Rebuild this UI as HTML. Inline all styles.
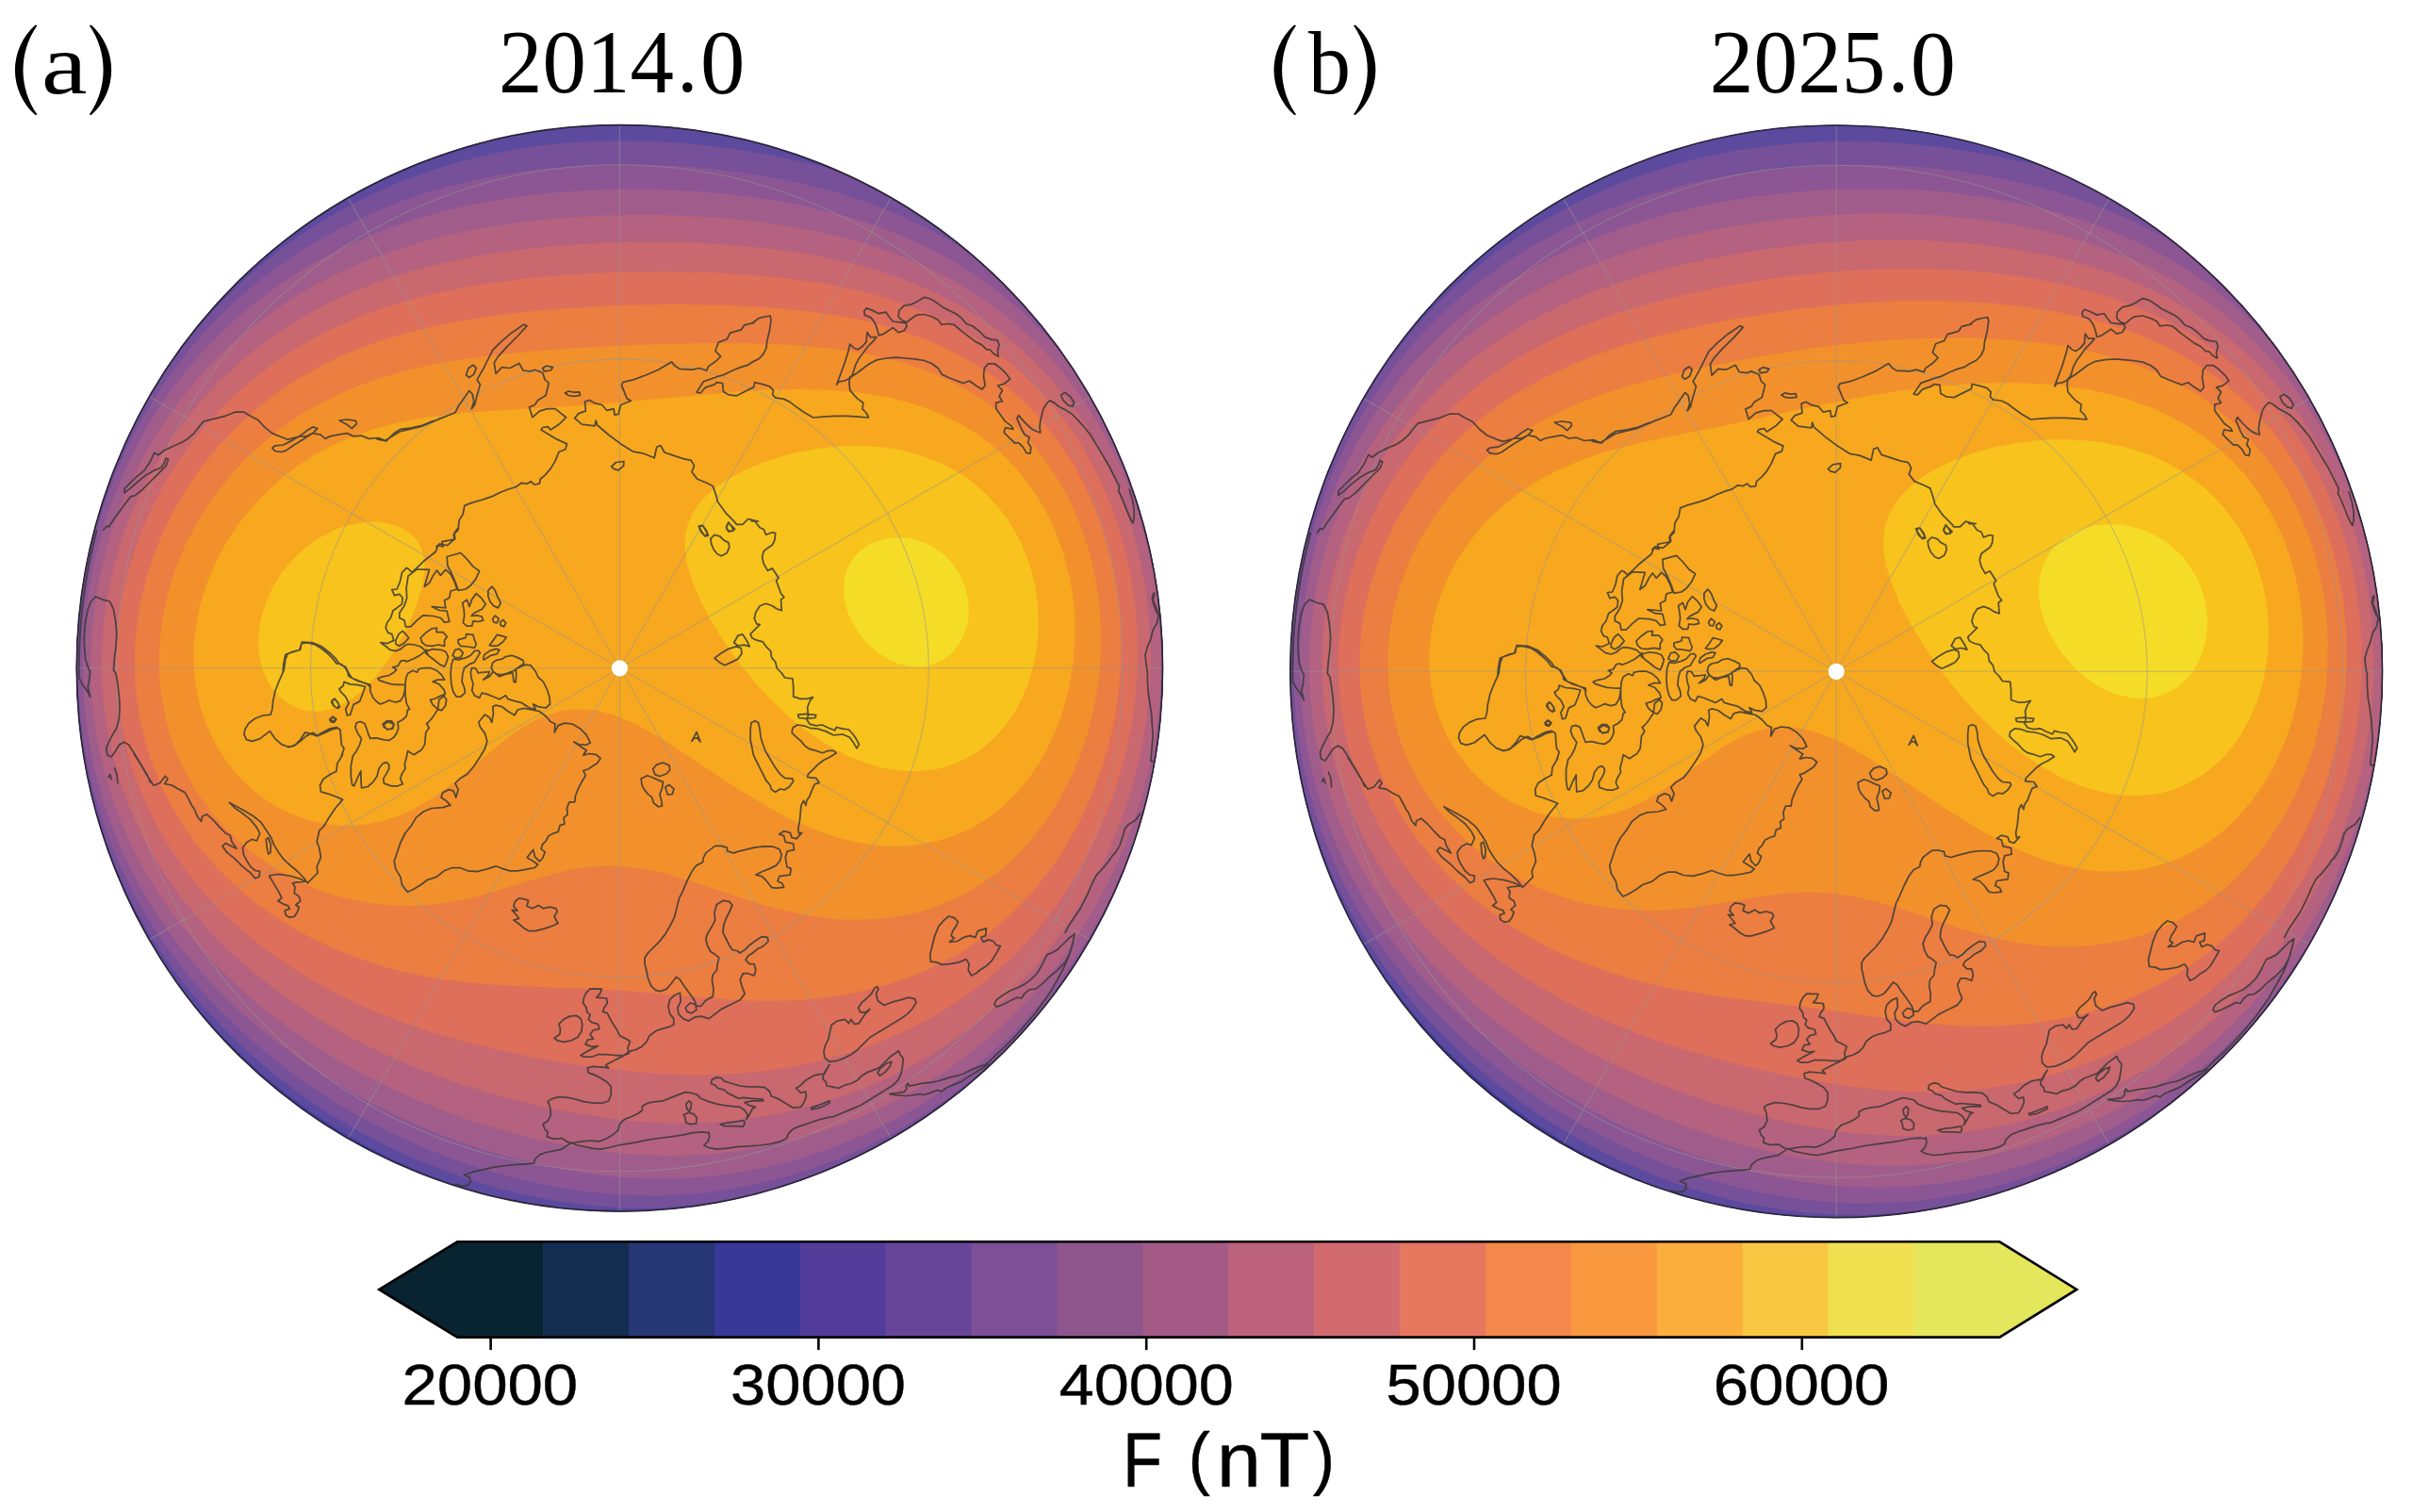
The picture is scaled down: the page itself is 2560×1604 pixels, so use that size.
<!DOCTYPE html>
<html><head><meta charset="utf-8"><title>F (nT) 2014.0 / 2025.0</title>
<style>
html,body{margin:0;padding:0;background:#fff;}
body{width:2560px;height:1604px;overflow:hidden;}
svg{display:block;}
.serif{font-family:"Liberation Serif",serif;fill:#000;}
.sans{font-family:"Liberation Sans",sans-serif;fill:#000;}
</style></head><body>
<svg width="2560" height="1604" viewBox="0 0 2560 1604">
<rect width="2560" height="1604" fill="#fff"/>
<clipPath id="clip0"><circle cx="657.4" cy="708.8" r="576.6"/></clipPath>
<g clip-path="url(#clip0)">
<circle cx="657.4" cy="708.8" r="578.6" fill="#3f3d9d"/>
<path d="M77.4,128.8L1237.4,128.8L1237.4,1288.8L571.4,1288.8L572.7,1279.8L571.4,1279.7L570.5,1278.8L565.4,1278.6L563.4,1277.7L559.4,1277.3L558.4,1276.8L539.4,1273.0L518.4,1267.8L494.3,1260.8L473.5,1253.8L455.0,1246.8L435.7,1238.8L416.1,1229.8L386.8,1214.8L359.2,1198.8L331.5,1180.8L305.4,1161.8L279.4,1140.8L254.1,1117.8L230.4,1093.8L208.4,1068.7L190.4,1045.8L170.3,1016.8L150.9,984.8L139.6,963.8L138.4,960.7L137.5,959.8L137.4,958.7L136.5,957.8L136.4,956.8L135.4,956.5L77.4,984.0Z" fill="#5c4a9f" fill-rule="evenodd"/>
<path d="M888.2,128.8L1237.4,128.8L1237.4,1288.8L904.8,1288.8L883.9,1239.8L882.4,1239.8L879.4,1241.7L877.4,1241.8L874.4,1243.6L872.7,1243.8L869.4,1245.6L867.4,1245.7L866.4,1246.6L862.4,1247.6L861.4,1248.5L856.4,1250.3L832.4,1258.1L808.4,1264.9L782.8,1270.8L754.6,1275.8L730.4,1278.8L705.4,1280.7L682.4,1281.3L655.4,1280.9L629.4,1279.1L601.4,1275.8L577.0,1271.8L552.4,1266.7L525.2,1259.8L498.6,1251.8L472.7,1242.8L440.4,1229.8L408.2,1214.8L376.4,1197.8L346.7,1179.8L317.3,1159.8L288.6,1137.8L262.4,1115.3L237.4,1091.4L214.4,1066.7L193.4,1041.4L174.4,1015.5L156.4,987.5L141.4,960.7L127.4,931.8L114.4,899.8L104.4,870.0L95.2,835.8L88.0,799.8L87.7,795.8L85.9,786.8L85.7,781.8L85.0,779.8L84.6,773.8L83.9,770.8L83.6,763.8L82.8,760.8L82.6,751.8L81.7,747.8L81.5,735.8L80.8,732.8L80.6,727.8L80.5,683.8L81.4,681.8L81.5,666.8L82.4,665.8L82.5,654.8L83.4,653.8L83.5,644.8L84.4,643.8L84.5,636.8L85.4,635.8L85.5,629.8L86.4,627.8L86.5,622.8L87.4,621.8L87.6,615.8L88.5,614.8L88.5,610.8L89.5,608.8L89.6,604.8L90.5,603.8L90.6,599.8L91.4,598.6L92.6,589.8L93.5,588.8L93.7,584.8L94.5,583.8L94.6,580.8L95.5,579.8L95.6,576.8L96.4,575.4L99.7,560.8L100.4,559.8L100.8,556.8L101.6,555.8L102.8,549.8L103.6,548.8L104.9,542.8L106.6,538.8L106.8,536.8L111.8,521.8L124.1,489.8L134.3,466.8L141.2,452.8L149.4,437.1L160.4,417.7L170.4,401.7L182.4,383.8L203.4,355.9L228.4,327.0L253.4,301.8L279.4,278.9L305.3,258.8L333.2,239.8L361.8,222.8L392.9,206.8L424.4,193.0L457.3,180.8L489.4,171.1L510.4,165.8L533.4,160.9L555.4,157.1L578.4,153.9L601.4,151.6L625.4,150.1L649.4,149.3L674.4,149.4L699.4,150.2L724.4,151.8L749.4,154.2L774.4,157.3L818.4,164.6L877.4,177.8L880.4,178.0L874.4,174.3L870.7,172.8Z" fill="#765099" fill-rule="evenodd"/>
<path d="M1141.8,129.8L1142.7,128.8L1237.4,128.8L1237.4,1139.2L1121.0,1052.8L1120.4,1052.8L1119.4,1053.8L1119.3,1054.8L1116.3,1057.8L1116.1,1058.8L1103.7,1073.8L1080.4,1099.8L1056.1,1123.8L1028.4,1147.8L1003.4,1166.8L975.1,1185.8L947.9,1201.8L918.6,1216.8L888.9,1229.8L859.1,1240.8L829.4,1249.8L796.2,1257.8L764.4,1263.3L732.4,1266.9L699.4,1268.5L666.4,1268.0L639.4,1266.1L612.4,1262.9L586.4,1258.6L558.4,1252.8L530.4,1245.6L501.4,1236.8L475.4,1227.7L447.9,1216.8L421.4,1204.9L397.0,1192.8L371.6,1178.8L346.9,1163.8L323.0,1147.8L299.8,1130.8L277.4,1112.8L256.4,1094.4L236.4,1075.2L218.4,1056.3L201.4,1036.8L185.4,1016.6L170.4,995.6L156.4,973.9L143.4,951.2L132.4,929.6L122.4,907.2L113.4,884.1L105.4,860.1L98.4,834.9L92.4,807.8L88.4,784.2L85.4,759.8L83.4,732.6L82.8,706.8L83.4,681.0L85.4,653.6L88.4,629.0L92.4,605.2L98.4,577.6L105.4,551.9L114.4,524.4L123.4,501.1L134.4,476.2L146.4,452.5L158.4,431.4L171.4,410.8L186.4,389.5L202.4,369.1L219.4,349.6L236.4,332.0L254.4,315.2L273.4,299.0L293.3,283.8L313.4,269.9L334.4,256.7L356.4,244.4L379.4,232.9L402.4,222.6L426.4,213.3L450.4,205.1L475.4,197.8L501.4,191.4L527.4,186.2L554.4,181.9L581.4,178.6L611.4,176.2L642.4,174.8L674.4,174.6L706.4,175.5L738.4,177.6L769.4,180.7L800.4,185.0L830.4,190.3L858.4,196.5L885.4,203.6L910.4,211.4L935.4,220.5L958.4,230.0L981.4,241.0L1002.4,252.3L1027.4,267.1L1028.1,266.8L1028.1,265.8Z" fill="#8b5693" fill-rule="evenodd"/>
<path d="M656.6,200.8L697.4,201.0L738.4,202.9L778.4,206.4L817.4,211.7L853.4,218.4L888.4,226.8L921.4,236.7L952.4,248.2L982.4,261.6L1010.4,276.5L1036.4,292.8L1061.4,311.2L1084.4,330.8L1106.4,352.5L1126.4,375.6L1144.2,398.8L1144.4,399.8L1145.4,400.0L1237.4,341.8L1237.4,892.8L1207.4,883.3L1207.3,884.8L1206.4,885.6L1206.0,887.8L1205.4,888.4L1201.8,898.8L1191.4,924.3L1183.4,941.9L1174.4,959.9L1164.4,978.2L1153.4,996.5L1141.4,1014.9L1129.4,1031.9L1116.4,1048.8L1102.4,1065.7L1088.4,1081.3L1074.4,1095.7L1059.4,1110.1L1043.8,1123.8L1027.9,1136.8L1010.6,1149.8L980.8,1169.8L949.5,1187.8L916.7,1203.8L882.4,1217.8L849.3,1228.8L814.4,1237.9L778.4,1244.7L743.4,1248.8L716.4,1250.3L688.4,1250.3L659.4,1248.9L631.4,1246.0L603.2,1241.8L572.9,1235.8L543.4,1228.6L513.2,1219.8L483.6,1209.8L455.0,1198.8L427.4,1186.8L398.7,1172.8L372.4,1158.5L346.4,1142.8L320.9,1125.8L296.4,1107.8L273.4,1089.3L251.4,1069.8L231.4,1050.3L212.4,1030.0L194.4,1008.7L178.4,987.6L163.4,965.5L150.4,944.1L138.4,921.6L127.4,898.1L117.4,873.1L109.4,849.4L102.4,824.2L96.4,796.6L92.4,771.7L89.6,745.8L88.2,718.8L88.2,691.8L89.6,665.8L92.6,637.8L97.4,608.9L103.4,582.1L110.4,557.1L119.4,530.6L129.4,505.7L141.4,480.0L154.4,456.0L168.4,433.2L183.4,411.5L200.4,389.8L217.4,370.4L236.4,351.1L255.4,333.8L276.4,316.7L298.3,300.8L320.4,286.5L343.4,273.3L367.4,261.1L392.4,250.0L418.4,239.9L444.4,231.4L471.5,223.8L500.4,217.1L529.4,211.8L559.4,207.4L591.4,204.1L623.4,201.9Z" fill="#a05d8b" fill-rule="evenodd"/>
<path d="M637.3,228.8L667.4,228.0L698.4,228.0L729.4,229.0L759.4,230.7L788.4,233.3L816.4,236.7L843.4,240.9L869.4,246.0L894.2,251.8L917.4,258.3L940.4,265.8L961.4,273.8L982.4,282.9L1002.4,292.8L1021.4,303.5L1039.4,314.9L1057.4,327.6L1075.4,342.0L1091.4,356.3L1107.4,372.3L1122.4,389.1L1136.4,406.6L1149.4,424.7L1161.4,443.5L1172.4,462.7L1183.4,484.4L1192.4,504.6L1201.4,527.7L1209.4,551.7L1215.4,573.0L1221.4,598.9L1225.4,621.0L1228.7,645.8L1230.9,671.8L1231.7,696.8L1231.3,722.8L1229.4,750.1L1226.4,775.0L1222.4,798.8L1216.4,825.9L1209.4,851.3L1201.4,875.7L1192.4,899.3L1181.4,924.4L1169.4,948.5L1156.4,971.7L1142.4,994.1L1127.4,1015.8L1111.4,1036.5L1095.4,1055.4L1078.4,1073.5L1060.4,1091.0L1042.4,1106.8L1022.2,1122.8L1002.4,1136.9L980.6,1150.8L959.4,1162.9L936.0,1174.8L911.4,1185.8L888.1,1194.8L864.3,1202.8L839.4,1209.9L813.6,1215.8L788.4,1220.3L761.4,1223.6L734.4,1225.5L707.4,1226.0L679.4,1225.1L651.4,1222.7L622.2,1218.8L593.4,1213.7L562.6,1206.8L532.4,1198.8L500.4,1188.9L471.4,1178.6L442.1,1166.8L413.4,1153.8L386.4,1140.2L360.4,1125.7L334.4,1109.6L310.4,1093.2L287.4,1076.0L265.4,1057.9L245.4,1039.8L225.4,1019.9L207.4,1000.1L190.4,979.3L175.4,958.8L161.4,937.3L148.4,914.6L137.4,892.6L127.4,869.4L118.4,844.5L111.4,821.0L105.7,796.8L101.4,772.9L98.3,747.8L96.6,720.8L96.4,694.8L97.8,667.8L100.8,640.8L105.4,613.8L111.4,587.7L118.4,563.6L127.4,538.1L137.4,514.2L149.4,489.6L162.4,466.6L176.4,444.8L192.4,422.9L209.4,402.3L227.4,383.0L246.4,364.8L265.4,348.6L285.4,333.3L306.7,318.8L329.4,305.1L352.4,292.9L376.4,281.7L400.8,271.8L426.4,262.9L453.4,254.9L480.4,248.3L509.4,242.4L539.4,237.5L571.4,233.6L603.4,230.7Z" fill="#b4627f" fill-rule="evenodd"/>
<path d="M674.1,256.8L704.4,256.8L734.4,257.5L763.4,258.9L792.4,261.2L819.4,264.0L845.4,267.7L870.4,272.0L894.4,277.1L916.8,282.8L938.4,289.3L958.4,296.2L978.4,304.3L997.4,313.0L1016.1,322.8L1033.4,333.0L1050.4,344.3L1067.1,356.8L1082.6,369.8L1097.6,383.8L1112.4,399.3L1126.4,415.8L1139.4,433.0L1151.4,450.8L1162.4,469.1L1172.4,487.9L1182.4,509.3L1190.4,529.0L1198.0,550.8L1204.4,572.4L1209.8,594.8L1214.3,617.8L1217.4,639.8L1219.7,663.8L1220.7,687.8L1220.6,712.8L1219.2,736.8L1216.6,761.8L1212.8,785.8L1207.5,810.8L1201.4,834.1L1194.3,856.8L1185.4,880.9L1175.4,904.4L1164.4,927.1L1152.4,949.1L1139.4,970.4L1125.4,991.0L1111.4,1009.6L1096.4,1027.6L1080.4,1045.1L1063.4,1061.8L1046.4,1076.9L1028.4,1091.4L1009.8,1104.8L990.4,1117.4L970.4,1129.0L949.4,1139.9L927.4,1149.9L905.2,1158.8L881.4,1167.0L858.4,1173.8L834.1,1179.8L809.4,1184.6L785.4,1188.1L758.4,1190.6L731.4,1191.6L704.4,1191.4L676.4,1189.7L647.4,1186.6L616.4,1182.0L584.4,1175.9L553.4,1168.8L521.4,1160.2L490.8,1150.8L460.4,1140.1L431.7,1128.8L403.4,1116.2L376.4,1102.8L351.1,1088.8L326.4,1073.6L304.4,1058.8L282.4,1042.4L261.4,1025.2L242.4,1007.9L224.4,989.9L207.4,971.0L191.4,951.2L177.4,931.6L164.4,911.1L152.6,889.8L142.4,868.6L133.4,846.7L125.4,823.1L119.3,800.8L114.4,777.8L110.7,752.8L108.4,726.8L107.8,701.8L108.7,676.8L111.3,650.8L115.4,625.1L120.8,600.8L127.7,576.8L136.4,552.0L146.4,528.3L157.4,506.1L170.4,483.4L184.4,462.0L199.4,441.8L216.4,421.6L233.4,403.7L252.4,386.0L270.6,370.8L290.4,356.0L310.4,342.8L332.4,329.9L354.4,318.5L377.4,308.2L401.4,298.8L426.4,290.5L452.4,283.2L479.5,276.8L508.4,271.2L539.4,266.4L571.4,262.6L605.4,259.7L639.4,257.8Z" fill="#c9686e" fill-rule="evenodd"/>
<path d="M650.3,288.8L707.4,287.9L762.4,289.3L814.4,292.9L861.4,298.8L883.4,302.5L903.4,306.7L923.4,311.6L941.7,316.8L959.9,322.8L977.4,329.4L994.4,336.8L1010.4,344.6L1026.4,353.4L1042.4,363.4L1057.4,373.8L1071.4,384.7L1084.4,396.0L1097.4,408.5L1109.4,421.2L1121.4,435.4L1132.4,449.9L1142.5,464.8L1152.4,481.0L1161.4,497.6L1169.4,514.2L1177.3,532.8L1183.5,549.8L1189.5,568.8L1195.0,589.8L1199.5,610.8L1203.0,632.8L1205.4,655.6L1206.7,677.8L1206.8,699.8L1205.9,721.8L1203.9,743.8L1200.9,765.8L1196.8,787.8L1191.5,809.8L1185.4,830.8L1178.4,851.2L1170.3,871.8L1161.3,891.8L1150.5,912.8L1139.4,932.2L1128.4,949.4L1115.4,967.7L1102.4,984.2L1088.4,1000.3L1073.4,1015.9L1058.4,1029.9L1042.4,1043.3L1025.4,1056.1L1008.4,1067.6L991.4,1077.9L972.4,1088.1L953.4,1097.1L933.4,1105.5L913.3,1112.8L891.4,1119.7L865.4,1126.5L839.9,1131.8L814.4,1135.8L787.4,1138.6L760.4,1140.1L733.4,1140.4L704.4,1139.4L674.4,1137.1L637.4,1132.9L599.4,1127.4L560.4,1120.4L523.4,1112.6L489.4,1104.2L458.4,1095.2L428.4,1085.1L400.4,1074.1L376.4,1063.5L352.4,1051.6L329.4,1038.7L307.4,1025.0L286.4,1010.3L266.4,994.8L247.4,978.4L230.4,961.9L214.4,944.6L199.4,926.4L185.4,907.0L173.4,888.2L162.4,868.2L152.7,847.8L144.4,826.9L137.4,805.5L131.3,781.8L126.8,756.8L124.0,731.8L123.0,706.8L123.6,681.8L126.0,656.8L130.0,631.8L135.8,606.8L143.4,581.8L152.4,557.9L162.4,535.8L174.7,512.8L188.4,490.7L203.4,469.7L219.6,449.8L237.4,430.6L255.1,413.8L273.4,398.3L292.8,383.8L313.4,370.2L334.4,358.1L356.7,346.8L379.7,336.8L404.4,327.6L429.4,319.7L455.5,312.8L483.4,306.7L513.4,301.4L545.4,297.0L578.4,293.4L613.4,290.7Z" fill="#de6f5b" fill-rule="evenodd"/>
<path d="M662.4,323.8L714.4,322.8L764.4,323.5L810.4,325.7L852.4,329.5L889.4,334.8L923.4,341.6L954.4,350.2L984.0,360.8L998.4,367.0L1012.4,373.8L1038.4,388.8L1062.5,405.8L1074.4,415.6L1085.4,425.6L1096.4,436.7L1106.4,447.7L1124.4,470.8L1140.5,495.8L1148.2,509.8L1155.0,523.8L1162.3,540.8L1168.4,557.0L1174.1,574.8L1178.8,592.8L1182.7,610.8L1185.7,628.8L1187.9,647.8L1189.2,666.8L1189.7,685.8L1189.2,704.8L1187.9,723.8L1185.7,742.8L1182.6,761.8L1178.8,779.8L1174.1,797.8L1168.6,815.8L1162.4,833.1L1155.1,850.8L1147.4,867.3L1138.4,884.4L1129.4,899.6L1119.4,914.9L1108.4,930.0L1097.4,943.5L1085.4,956.9L1073.4,968.9L1060.4,980.6L1047.4,991.1L1033.4,1001.3L1019.4,1010.3L1004.4,1018.8L988.4,1026.8L969.4,1034.9L950.4,1041.8L930.4,1047.7L909.4,1052.7L887.4,1056.6L865.4,1059.4L842.4,1061.2L819.4,1061.8L794.4,1061.5L767.4,1060.1L680.4,1052.4L645.4,1049.9L549.4,1046.1L515.4,1044.1L492.4,1041.9L470.4,1039.1L449.4,1035.5L429.4,1031.2L407.4,1025.5L386.4,1018.8L365.4,1011.0L345.4,1002.3L326.4,992.9L307.4,982.2L289.4,970.7L272.4,958.4L256.4,945.5L241.3,931.8L226.6,916.8L213.4,901.5L201.4,885.9L190.4,869.5L180.4,852.5L171.4,834.6L161.9,811.8L154.4,788.8L148.6,764.8L144.8,740.8L142.9,716.8L142.8,691.8L144.7,666.8L148.4,641.8L154.2,616.8L161.6,592.8L171.4,568.0L182.4,545.1L195.4,522.4L209.9,500.8L226.2,479.8L243.4,460.7L260.4,444.1L278.4,428.7L297.4,414.4L317.4,401.2L337.4,389.7L359.4,378.7L382.4,369.0L406.4,360.4L431.4,352.9L457.4,346.5L485.7,340.8L516.4,335.9L549.4,331.7L585.4,328.2L623.4,325.6Z" fill="#eb7e40" fill-rule="evenodd"/>
<path d="M710.6,364.8L754.4,364.0L793.4,364.2L828.4,365.3L859.4,367.4L888.4,370.5L914.4,374.5L939.4,379.9L962.4,386.3L985.4,394.4L1006.4,403.5L1026.4,414.2L1045.4,426.3L1063.4,440.0L1079.8,454.8L1095.4,471.4L1109.4,489.0L1123.4,510.1L1136.2,533.8L1146.4,557.5L1154.9,582.8L1161.3,608.8L1165.7,635.8L1167.9,663.8L1168.0,691.8L1165.8,719.8L1161.5,746.8L1155.0,773.8L1146.6,799.8L1136.4,824.2L1124.2,847.8L1110.4,869.6L1094.4,890.4L1076.4,909.6L1066.4,918.8L1056.4,926.9L1035.4,941.4L1024.4,947.8L1012.4,953.8L989.4,963.0L977.4,966.7L964.4,969.9L938.4,974.2L911.4,975.8L894.4,975.4L876.4,973.9L858.4,971.4L840.4,967.8L822.4,963.5L802.4,957.8L734.4,935.3L707.4,927.3L692.4,923.8L678.4,921.2L665.4,919.5L652.4,918.7L640.4,918.6L627.4,919.5L614.4,921.1L600.4,923.7L576.4,929.9L512.4,949.3L493.4,953.9L475.4,957.3L456.4,959.7L437.4,960.9L418.4,960.6L399.4,959.0L380.4,956.0L361.4,951.6L343.4,945.9L325.4,938.8L308.4,930.7L291.0,920.8L274.4,909.6L259.4,897.8L249.4,888.9L239.4,879.0L222.4,859.4L207.4,838.0L194.5,814.8L184.3,790.8L179.9,777.8L176.4,765.2L171.4,739.8L168.8,712.8L169.0,685.8L171.9,658.8L177.4,631.8L185.7,604.8L196.4,578.8L209.4,553.8L225.4,528.8L243.3,505.8L259.7,487.8L277.7,470.8L297.4,454.9L317.4,441.0L338.4,428.6L361.4,417.2L385.4,407.3L410.5,398.8L436.4,391.8L464.2,385.8L493.8,380.8L527.4,376.4L566.4,372.6L611.4,369.3L660.4,366.6Z" fill="#f2912c" fill-rule="evenodd"/>
<path d="M813.2,413.8L842.4,413.0L869.4,413.3L894.4,414.7L917.4,417.2L939.4,420.9L960.4,425.9L979.4,431.9L998.4,439.4L1016.4,448.3L1033.4,458.5L1049.4,470.1L1064.1,482.8L1077.8,496.8L1090.4,512.3L1101.4,528.4L1111.4,545.9L1120.5,565.8L1128.4,587.8L1134.2,609.8L1138.2,632.8L1140.2,655.8L1140.4,679.8L1138.6,702.8L1135.0,725.8L1129.4,748.4L1122.2,769.8L1113.4,789.8L1102.4,809.6L1090.4,827.0L1077.0,842.8L1062.4,856.7L1046.4,868.9L1029.4,879.0L1012.4,886.6L993.4,892.6L974.4,896.2L954.4,897.8L934.4,897.2L914.4,894.6L893.2,889.8L875.4,884.2L856.4,876.9L837.4,868.2L817.4,857.6L781.2,835.8L708.4,787.5L692.4,777.9L678.4,770.2L663.4,763.2L649.4,758.0L636.4,754.6L623.4,752.7L608.4,752.5L594.4,754.5L580.4,758.6L566.4,764.8L552.4,772.9L538.4,782.8L524.4,793.9L481.4,830.1L467.2,840.8L453.4,850.0L437.4,858.9L420.4,866.3L404.4,871.3L387.4,874.5L377.4,875.5L366.4,875.8L355.4,875.2L344.4,873.8L333.4,871.5L323.4,868.7L313.4,865.1L303.4,860.7L293.4,855.5L284.4,850.0L275.4,843.6L266.4,836.3L258.4,828.9L250.4,820.3L243.4,811.8L236.9,802.8L226.4,785.1L218.2,766.8L211.7,746.8L207.5,725.8L205.5,704.8L205.8,682.8L208.3,660.8L212.9,639.8L219.5,618.8L228.4,597.6L239.4,576.9L252.4,557.1L267.4,538.1L283.4,521.2L300.7,505.8L319.6,491.8L333.4,483.0L348.4,474.8L363.4,467.6L379.4,461.1L395.4,455.6L412.5,450.8L430.4,446.7L450.4,443.0L473.4,439.9L499.4,437.4L627.4,429.5L760.4,417.4Z" fill="#f7a81f" fill-rule="evenodd"/>
<path d="M886.1,473.8L904.4,472.9L921.4,473.2L938.4,474.7L954.4,477.3L969.4,480.9L984.4,485.7L999.0,491.8L1012.4,498.7L1025.4,507.0L1037.4,516.2L1048.4,526.3L1058.4,537.2L1068.1,549.8L1076.3,562.8L1083.4,576.3L1089.5,590.8L1094.7,606.8L1098.6,623.8L1100.9,640.8L1101.8,657.8L1101.3,674.8L1099.3,691.8L1095.8,708.8L1090.9,724.8L1084.8,739.8L1077.4,753.8L1068.8,766.8L1059.4,778.2L1048.5,788.8L1037.4,797.4L1024.4,805.1L1011.4,810.8L994.4,815.7L976.4,818.1L958.4,817.9L939.4,815.2L920.4,810.1L901.4,802.7L882.0,792.8L862.4,780.3L843.3,765.8L824.3,748.8L806.0,729.8L788.3,708.8L771.5,685.8L756.8,662.8L744.4,639.8L734.8,617.8L730.0,602.8L727.4,589.8L726.4,577.8L727.3,565.8L730.1,554.8L735.2,543.8L742.1,533.8L750.4,524.8L761.4,515.6L775.4,506.4L791.4,498.1L808.4,491.0L826.9,484.8L846.4,479.8L866.4,476.1ZM388.7,553.8L397.4,553.6L406.4,554.2L414.5,555.8L422.4,558.4L429.4,561.8L435.1,565.8L440.3,570.8L444.0,575.8L447.0,581.8L449.2,588.8L450.2,595.8L450.4,603.8L449.5,612.8L447.8,621.8L441.8,641.8L436.6,654.8L430.1,668.8L423.2,681.8L415.4,694.8L407.4,706.6L399.5,716.8L391.5,725.8L383.4,733.5L375.4,739.9L366.4,745.7L358.0,749.8L349.4,752.7L340.4,754.4L332.4,754.6L324.4,753.7L316.4,751.6L310.4,749.0L304.4,745.5L298.4,740.9L293.3,735.8L288.5,729.8L284.4,723.3L281.2,716.8L278.2,708.8L276.1,700.8L274.8,692.8L274.2,684.8L274.2,675.8L276.4,658.3L281.4,640.7L288.9,623.8L298.8,607.8L310.4,593.7L324.4,580.7L339.4,570.2L355.4,562.0L364.1,558.8L372.4,556.4Z" fill="#f7c31c" fill-rule="evenodd"/>
<path d="M942.9,570.8L955.4,570.0L968.4,571.6L980.4,575.4L991.4,581.0L1001.4,588.3L1010.5,597.8L1017.9,608.8L1023.3,620.8L1026.7,633.8L1027.9,646.8L1026.7,659.8L1023.4,671.8L1018.0,682.8L1010.4,692.3L1001.4,699.6L991.4,704.5L985.4,706.2L978.4,707.3L972.4,707.5L965.4,707.0L958.4,705.6L951.4,703.4L938.4,697.1L931.9,692.8L925.6,687.8L915.0,676.8L906.0,663.8L899.4,649.8L895.8,635.8L894.9,622.8L895.6,615.8L896.8,609.8L898.8,603.8L901.4,598.4L904.4,593.6L908.4,588.6L913.4,583.8L918.4,580.1L924.0,576.8L930.4,574.0Z" fill="#f5dc27" fill-rule="evenodd"/>
<path d="M657.4,708.8L657.4,1285.4M657.4,708.8L945.7,1208.2M657.4,708.8L1156.8,997.1M657.4,708.8L1234.0,708.8M657.4,708.8L1156.8,420.5M657.4,708.8L945.7,209.4M657.4,708.8L657.4,132.2M657.4,708.8L369.1,209.4M657.4,708.8L158.0,420.5M657.4,708.8L80.8,708.8M657.4,708.8L158.0,997.1M657.4,708.8L369.1,1208.2" fill="none" stroke="#969696" stroke-opacity="0.55" stroke-width="1.1"/>
<circle cx="657.4" cy="708.8" r="534.0" fill="none" stroke="#969696" stroke-opacity="0.55" stroke-width="1.1"/>
<circle cx="657.4" cy="708.8" r="327.9" fill="none" stroke="#969696" stroke-opacity="0.55" stroke-width="1.1"/>
<path d="M400.0,465.9L408.3,467.6L424.9,457.6L446.4,452.7L466.3,444.4L482.9,437.8L486.2,431.1L492.0,422.8L497.8,414.5L501.1,417.9L502.8,426.1L500.3,433.6L503.6,429.5L506.1,419.5L509.4,407.9L506.1,402.9L512.7,391.3L522.7,371.4L531.0,363.2L542.6,353.2L555.8,344.1L559.1,345.7L549.2,356.5L537.6,368.1L528.5,378.1L524.3,384.7L526.0,396.3L532.6,389.7L540.9,390.5L550.9,385.5L555.0,393.0L563.3,393.8L567.4,392.2L575.7,395.5L578.2,402.9L582.3,406.3L579.0,419.5L570.7,424.5L567.4,429.5L561.6,431.9L564.9,442.7L572.4,436.1L580.7,433.6L589.0,433.6L600.6,442.7L594.0,449.4L584.0,456.0L581.5,452.7L575.7,453.5L574.1,456.0L582.3,461.0L590.6,465.9L601.4,470.9L599.8,476.7L593.1,479.2L589.0,489.1L584.0,497.4L578.2,504.1L573.2,508.2L572.4,513.2L566.6,514.0L563.3,510.7L559.1,513.2L553.3,512.3L547.5,516.5L539.2,519.0L531.0,522.3L522.7,526.4L512.7,529.8L501.1,533.1L492.8,536.4L491.2,545.5L487.0,552.1L486.2,562.1L481.2,567.0L482.1,572.0L474.6,578.7L466.3,577.0L463.0,580.0M494.5,398.0L497.0,390.5L501.9,387.2L505.3,390.5L502.8,397.1L497.8,400.5ZM575.7,390.5L579.9,388.0L586.5,389.7L584.0,393.0L577.4,393.8ZM599.4,417.0L603.1,415.0L608.9,416.2L614.7,415.9L615.5,419.5L608.9,420.3L603.1,419.5ZM800.0,342.4L789.6,344.9L786.2,349.9L774.6,353.2L771.3,359.8L762.2,363.2L758.9,372.3L764.7,378.1L759.7,383.0L751.4,388.9L749.8,393.0L741.5,390.5L734.9,392.2L720.8,391.3L715.8,388.0L712.5,383.9L698.4,392.2L685.1,398.0L671.9,402.9L661.1,405.4L659.4,408.7L665.2,422.8L669.4,425.3L658.6,429.5L656.1,439.4L652.0,440.2L651.1,433.6L643.7,435.3L638.7,429.5L631.2,427.8L625.4,424.5L620.5,426.1L621.3,436.1L613.8,438.6L609.7,443.6L617.2,450.2L631.2,451.8L632.1,446.0L633.7,451.0L645.3,461.0L658.6,470.9L671.9,479.2L681.8,480.8L694.2,485.8L696.7,474.2L700.9,472.6L705.0,480.0L715.0,483.3L724.9,486.7L733.2,488.3L736.5,494.1L734.0,500.7L739.8,508.2L749.8,512.3L756.4,515.7L759.7,525.6L761.4,532.2L769.7,543.8L779.6,553.8L781.3,556.3L787.9,556.3L793.7,550.5L800.0,552.1L804.5,553.0M648.7,494.9L653.6,490.5L661.9,489.5L661.6,494.1L656.1,498.8L651.1,497.4ZM741.5,558.8L745.6,557.4L750.6,566.2L748.1,568.7L744.0,564.6ZM770.5,559.6L773.0,554.6L779.6,561.2L775.5,563.7L771.3,562.1ZM460.0,446.3L447.9,451.3L436.3,453.8L424.7,455.4L418.1,459.6L409.8,467.9L401.5,464.5L391.5,465.4L383.2,462.1L375.0,462.9L368.3,459.6L358.4,461.2L350.1,462.9L345.1,465.4L340.1,461.2L331.9,459.6L325.2,462.9L318.6,462.9L305.3,466.2L298.7,463.7L288.8,459.6L280.5,452.9L273.8,445.5L265.6,441.3L258.9,437.2L249.0,437.2L239.0,441.3L225.8,444.6L215.8,447.1L210.9,452.9L205.9,459.6L199.2,465.4L192.6,469.5L182.7,473.7L174.4,477.8L167.8,482.8L163.6,480.3L159.5,489.4L152.8,499.4L144.5,506.0L137.9,512.6L132.1,518.4L132.1,522.9L137.9,518.4L146.2,511.0L154.5,504.3L162.8,499.4L171.1,496.0L174.4,491.1L176.0,486.1L178.5,487.7L176.0,494.4L167.8,502.7L159.5,511.0L149.5,520.9L142.9,525.9L138.7,526.7L132.9,534.2L126.3,543.3L119.7,552.4L115.5,559.0L113.0,558.2L109.7,562.3M288.8,475.3L292.1,472.8L300.4,472.0L308.7,467.9L318.6,462.1L325.2,457.1L331.9,452.9L336.8,454.6L331.9,459.6L325.2,463.7L318.6,467.9L312.0,472.0L303.7,477.8L298.7,479.5L292.1,478.6ZM360.0,446.0L368.3,445.0L377.4,446.3L378.3,449.6L373.3,454.6L368.3,450.5L363.4,448.0ZM393.2,729.2L389.9,725.9L381.6,722.6L373.3,719.2L370.0,714.3L366.7,707.6L360.0,704.3L356.7,699.4L350.1,692.7L341.8,686.1L331.9,681.9L320.3,681.1L317.8,689.4L305.3,693.5L302.8,699.4L301.2,711.0L295.4,724.2L292.1,732.5L289.6,744.1L288.8,752.4L287.1,758.2L278.8,759.0L270.5,762.3L263.9,767.3L259.8,774.0L258.9,778.9L261.4,784.7L267.2,786.4L275.5,783.9L282.1,778.9L286.3,775.6L292.1,783.9L298.7,789.7L305.3,792.2L312.0,791.4L318.6,786.4L325.2,780.6L331.9,777.3L336.8,780.6L345.1,777.3L351.8,774.0L358.4,772.3M352.1,743.3L355.1,741.1L359.7,747.4L358.4,751.6L354.2,749.1ZM349.8,763.2L353.1,760.7L356.7,763.2L354.2,766.5L350.9,765.7ZM406.8,769.0L411.4,765.7L418.1,768.1L416.4,773.1L410.6,774.0ZM365.0,723.4L371.6,725.9L379.9,726.7L387.4,728.4L384.9,735.8L381.6,744.1L375.0,747.4L371.6,758.2L368.3,759.0L366.7,752.4L370.0,745.8L366.7,739.1L361.7,734.2L360.0,730.8L364.2,727.5ZM84.9,720.9L87.4,725.9L89.8,729.2L93.2,734.2L95.6,739.1L93.2,729.2L94.8,720.9L95.6,712.6L93.2,707.6L90.7,699.4L89.5,686.1L89.5,672.8L90.7,659.6L93.2,646.3L96.5,638.0L101.4,633.0L109.7,636.4L116.4,638.0L120.5,646.3L122.7,659.6L123.8,672.8L123.0,686.1L121.3,699.4L120.5,711.0L123.0,714.3L124.7,724.2L126.3,737.5L127.1,749.1L126.3,762.3L123.8,772.3L119.7,778.9L115.5,787.2L112.7,793.8L113.9,801.3L118.0,803.0L122.2,797.2L126.3,790.5L131.3,787.2L136.3,789.7L141.2,797.2L146.2,805.4L151.2,813.7L156.1,822.0L159.5,830.0M142.3,800.0L149.7,811.6L156.4,823.2L163.0,833.2L169.6,830.7L175.4,823.2L177.9,826.5L174.6,831.5L182.9,833.2L189.5,837.3L196.1,840.6L199.5,846.4L203.6,854.7L206.1,858.0L209.4,866.3L213.6,871.3L214.4,866.3L219.4,863.8L226.0,869.6L232.6,877.1L239.2,883.7L244.2,886.2L245.9,892.8L250.9,900.3L244.2,897.0L239.2,894.5L235.9,897.8L240.9,904.4L249.2,911.1L257.5,919.4L265.8,926.0L270.7,931.8L274.9,930.1L275.7,924.3L270.7,923.5L265.8,919.4L261.6,912.7L258.3,906.1L257.5,899.5L261.6,893.7L267.4,890.3L272.4,892.0L275.7,884.5L272.4,877.9L265.8,869.6L257.5,863.0L249.2,857.2L243.4,851.4L250.9,855.5L259.1,860.0L269.1,866.0L277.4,872.9L282.3,880.4L287.3,887.9L290.6,896.1L295.6,904.4L300.6,911.1L305.6,916.0L313.8,922.7L322.1,931.0L326.3,936.8L332.1,931.0L337.0,926.0L336.2,919.4L340.4,909.4L338.7,899.5L336.2,892.8L338.7,881.2L343.7,876.3L348.7,868.0L355.3,858.0L363.6,848.1L355.3,844.8L348.7,842.3L340.4,839.8L339.5,833.2L342.9,826.5L350.3,821.5L356.9,818.2L357.8,809.9L361.9,803.3L363.6,800.0M285.7,929.3L290.6,937.6L295.6,945.9L298.9,952.5L294.8,955.8L300.6,959.1L305.6,960.8L307.2,964.1L302.2,965.8L303.1,970.7L307.2,973.2L312.2,972.4L315.5,967.4L317.2,962.5L313.8,960.0L318.8,955.8L317.2,950.9L312.2,947.5L313.0,940.9L310.5,936.8L315.5,935.9L323.8,935.1L317.2,931.8L307.2,929.0L295.6,927.3L287.3,928.5ZM282.3,890.3L284.8,888.7L287.3,896.1L287.0,904.4L284.8,906.1L283.2,899.5ZM114.9,824.9L116.6,821.5L118.2,826.5M121.5,814.9L124.0,821.5L124.9,830.7M526.0,748.1L532.6,749.7L539.2,754.7L545.9,758.8L549.2,753.0L555.8,751.4L564.1,753.0L572.4,754.7L579.0,759.7L584.0,765.5L589.0,768.0L588.2,777.1L592.3,769.6L598.9,767.1L607.2,768.0L615.5,772.9L622.1,779.6L626.3,787.9L622.1,790.3L613.8,789.5L608.9,787.0L617.2,792.8L622.1,796.1L618.8,801.1L625.4,799.5L632.1,800.3L637.1,804.4L633.7,809.4L628.8,812.7L623.8,816.0L618.8,817.7L621.3,822.7L617.2,829.3L613.8,835.9L610.5,844.2L609.7,850.9L603.9,850.9L601.4,857.5L602.2,864.1L598.1,867.4L598.9,874.1L594.0,875.7L592.3,882.3L587.3,884.0L582.3,886.5L579.0,892.3L575.7,895.6L574.1,900.6L578.2,903.9L575.7,910.5L572.4,913.8L567.4,908.9L565.8,901.4L559.1,909.7L565.8,913.8L570.7,917.2L567.4,920.5L559.1,922.1L549.2,923.8L540.9,923.8L532.6,921.3L526.0,918.8L516.0,922.1L506.1,924.6L496.1,923.8L487.9,920.5L479.6,920.5L471.3,923.8L463.0,930.4L453.0,933.7L446.4,938.7L438.1,943.7L432.3,946.2L426.5,938.7L424.9,930.4L419.9,922.1L418.2,913.8L421.5,903.9L424.9,894.0L429.8,884.0L436.5,875.7L441.4,867.4L449.7,860.8L458.0,857.5L469.6,856.7L477.9,854.2L472.9,849.2L468.0,845.9L469.6,840.9L476.3,837.6L481.2,839.2L483.7,845.9L486.2,837.6L482.9,831.0L487.9,826.0L496.1,821.0L502.8,812.7L509.4,802.8L514.4,794.5L516.9,786.2L514.4,777.9L509.4,771.3L507.7,766.3L514.4,758.0L519.4,761.3L521.8,766.3L523.5,756.4L522.7,749.7ZM680.1,826.0L686.8,822.7L693.4,825.2L698.4,827.6L703.4,829.3L702.5,835.9L700.0,842.6L701.7,849.2L702.5,855.0L698.4,855.8L693.4,851.7L691.8,845.9L687.6,842.6L683.5,837.6L681.0,832.6ZM692.6,816.0L696.7,811.1L703.4,809.1L710.0,811.9L710.8,816.9L706.7,821.0L700.0,823.5L695.1,821.8ZM705.8,835.1L710.0,832.6L715.0,836.8L713.3,842.6L708.3,842.9ZM734.0,786.2L739.0,776.6L743.1,787.0L739.8,782.9L736.5,782.9ZM486.1,560.0L482.1,565.3L482.8,571.9L475.5,573.3L468.9,574.6L470.2,579.9L464.9,578.6L462.2,585.2L455.6,590.5L449.0,595.8L442.3,602.4L437.0,607.1L433.7,603.8L431.1,602.4L426.4,607.7L424.4,617.0L421.1,625.0L415.8,625.6L418.5,631.6L423.8,630.3L427.1,634.3L426.4,640.9L421.1,644.9L417.1,647.5L414.5,655.5L410.5,660.8L409.2,666.1L411.8,671.4L415.8,672.7L417.8,679.4L410.5,682.7L403.9,681.7L409.8,686.0L413.8,689.3L419.8,690.6L425.1,688.6L429.7,684.7L433.0,683.3L439.7,684.0L446.3,686.0L450.3,689.3L452.3,693.9M433.0,611.1L442.3,603.8L455.6,604.4L452.9,613.0L450.3,622.3L455.6,618.3L459.6,610.4L463.5,605.1L467.5,610.4L472.8,604.4L478.1,609.1L482.1,617.0L484.8,625.0L478.1,627.0L476.8,634.3L471.5,636.9L472.8,644.9L458.2,643.5L466.2,647.5L474.2,648.2L475.5,654.2L476.8,659.5L471.5,660.1L467.5,655.5L459.6,653.5L449.0,652.8L442.3,658.1L435.7,664.8L430.4,664.8L429.1,658.1L423.8,655.5L423.8,650.2L429.1,642.2L431.7,634.3L431.1,623.7ZM474.2,590.5L488.7,586.5L495.4,593.2L502.0,601.1L508.6,605.8L504.7,614.4L499.4,621.0L494.0,625.0L486.1,626.3L483.4,618.3L479.5,609.1L474.8,599.8ZM490.7,639.6L495.4,636.3L498.0,643.5L500.7,635.6L505.3,629.6L510.6,634.3L515.3,640.9L511.3,646.2L503.3,650.2L500.0,653.5L506.0,652.8L511.3,654.2L512.6,658.1L507.3,659.5L502.0,658.8L500.7,664.1L495.4,664.1L491.4,660.8L492.7,652.8L492.1,646.2ZM517.9,626.3L521.9,622.1L525.2,626.3L528.5,634.3L531.2,639.6L528.5,644.9L523.9,642.9L519.9,638.2L517.9,632.3ZM522.6,656.8L525.2,653.1L529.2,656.1L527.2,660.8L523.9,660.1ZM530.5,660.1L533.8,657.5L536.8,660.8L534.5,664.8L531.2,663.4ZM446.3,676.7L451.6,671.4L458.2,666.8L463.5,666.1L462.9,670.7L470.2,670.7L474.2,675.4L471.5,679.4L471.5,685.3L464.9,684.0L458.2,685.3L451.6,684.7L447.6,681.3ZM419.8,679.4L423.1,672.7L427.1,669.4L430.4,672.7L433.7,676.7L429.1,682.0L423.8,685.3L419.8,683.3ZM486.1,678.7L494.0,676.7L494.7,672.7L502.0,673.4L503.3,678.7L505.3,683.3L503.3,687.3L496.7,686.0L488.7,685.3L486.1,682.0ZM519.2,684.7L523.2,679.4L527.2,673.4L532.5,674.7L537.2,676.0L533.8,680.7L528.5,684.7L523.2,685.3ZM512.6,699.2L513.9,694.6L519.2,690.6L525.9,688.4L529.9,689.3L527.2,693.9L520.6,695.3L516.6,697.9L513.9,699.9ZM480.1,695.3L482.8,689.3L487.4,688.4L491.4,692.6L488.7,697.3L483.4,697.9ZM452.3,690.6L459.6,688.6L467.5,689.3L472.8,691.3L475.5,696.6L473.5,703.2L471.5,707.2L466.2,704.6L459.6,699.2L454.3,695.3ZM480.8,699.2L486.1,699.9L494.0,697.9L499.4,695.3L503.3,690.6L507.3,690.0L509.3,692.6L506.0,697.9L503.3,702.6L498.0,704.6L492.7,708.5L490.7,715.2L490.1,723.1L492.7,729.7L493.4,735.1L488.7,739.0L484.1,739.0L480.8,733.7L478.8,725.8L478.1,715.2L478.8,705.9ZM500.7,708.5L504.7,709.2L507.3,713.8L513.9,713.2L519.2,712.5L517.9,716.5L512.6,721.1L519.2,717.8L523.2,712.5L529.9,717.8L536.5,715.2L543.8,713.8L545.1,723.1L547.1,723.8L547.8,715.2L547.1,709.9L552.4,707.2L557.7,705.2L563.0,705.9L568.3,712.5L571.0,718.5L576.3,723.1L580.3,731.1L582.9,739.0L583.6,747.0L578.9,751.0L571.0,749.6L565.7,747.0L568.3,752.3L561.7,751.0L553.7,745.7L545.8,743.7L539.1,741.7L536.5,737.7L529.9,741.7L523.2,739.0L516.6,736.4L511.3,735.1L508.6,740.4L503.3,737.7L500.7,732.4L502.0,725.8L500.0,719.1L499.4,712.5ZM521.2,708.5L522.6,703.2L525.9,700.6L532.5,699.2L536.5,696.6L543.1,695.3L549.7,697.9L555.1,700.6L555.7,703.9L551.1,707.2L545.8,711.2L539.1,713.8L532.5,715.8L527.2,715.2L523.2,712.5ZM300.0,714.5L300.7,705.2L302.7,694.6L310.6,691.3L318.6,689.3L319.9,682.7L326.5,682.0L334.5,684.0L341.1,688.0L347.7,693.3L353.0,698.6L357.0,703.9L362.3,704.5L366.3,708.5L369.0,713.2L369.6,717.1L374.3,719.8L379.6,722.4L386.2,724.4L392.8,726.4L392.8,733.0L395.5,739.7L399.5,744.3L403.4,747.0L408.7,745.0L412.7,743.0L419.4,745.0L424.7,743.7L428.0,738.4L429.3,733.0L430.0,726.4L423.3,726.4L415.4,725.8L408.7,723.8L402.8,721.8L400.8,719.8L406.1,717.8L412.7,716.5L418.0,713.2L420.7,710.5L416.7,707.8L422.0,706.5L425.3,701.2L429.3,700.6L431.3,701.9L437.9,699.2L444.5,695.9L449.9,691.9L452.5,689.3M430.0,726.4L430.6,719.8L432.6,714.5L437.9,711.2L442.6,713.2L443.9,709.8L449.9,708.5L456.5,708.5L463.1,711.2L468.4,715.8L471.7,721.1L464.4,721.1L459.1,723.1L465.8,725.8L471.1,731.7L472.4,736.4L467.1,738.4L461.8,741.0L456.5,742.3L459.1,747.6L464.4,752.3L468.4,753.6L472.4,749.0L473.7,742.3L471.1,738.4L465.8,742.3L464.4,752.9L462.5,755.6L459.1,760.9L454.5,766.2L452.5,767.5L455.2,772.2L451.8,776.8L451.2,783.4L450.5,790.1L447.2,795.4L443.2,798.0L439.2,800.7L432.6,796.7L431.3,803.3L429.3,810.6L430.0,815.3L426.6,820.6L424.7,825.9L427.3,831.8L422.0,833.8L415.4,833.8L407.4,831.2L406.8,825.9L410.1,820.6L412.7,815.3L412.7,811.3L410.1,808.6L406.1,810.0L402.1,815.3L400.1,823.2L395.5,829.9L390.2,834.5L383.5,835.8L382.9,825.9L382.9,817.9L379.6,824.6L375.6,833.8L373.6,832.5L372.3,823.2L372.3,812.6L374.3,802.0L378.2,796.7L381.6,790.1L383.5,783.4L379.6,778.1L376.9,771.5L378.2,766.9L382.2,765.5L386.9,767.5L388.9,772.8L390.8,778.8L392.8,783.4L399.5,782.8L407.4,784.8L412.7,785.4L418.0,782.1L420.7,778.1L422.7,772.8L422.0,766.2L427.3,763.5L431.3,759.6L432.6,752.9L434.6,752.3L431.3,746.3L430.0,737.0ZM406.1,768.2L410.1,764.9L415.4,764.9L418.0,768.2L416.0,772.8L410.7,773.5L407.4,771.5ZM351.7,745.0L354.4,741.3L358.4,745.0L360.3,750.3L357.0,750.9L353.7,748.3ZM350.1,762.9L353.0,760.2L356.8,762.9L353.7,765.5ZM300.0,790.1L306.6,792.7L313.3,790.1L318.6,784.8L323.9,776.8L330.5,778.8L335.8,780.8L342.4,776.8L350.4,772.8L357.0,771.5L361.0,774.2L361.7,783.4L362.3,790.1L365.0,794.1L362.3,802.0M850.7,883.3L844.9,889.9L839.9,888.3L838.3,883.3L831.6,881.7L826.7,885.0L831.6,886.6L833.3,893.3L841.6,894.9L842.4,901.6L835.0,903.2L833.3,909.8L835.0,919.8L839.1,921.4L838.3,928.1L831.6,928.9L826.7,929.7L825.0,934.7L830.0,937.2L831.6,941.3L823.4,942.2L818.4,941.3L813.4,934.7L808.4,929.7L801.8,928.1L808.4,924.8L816.7,921.4L823.4,918.1L827.5,913.2L829.2,906.5L826.7,900.7L820.0,898.2L810.1,897.9L800.1,899.1L790.2,901.6L783.6,903.2L778.6,904.9L772.0,903.2L771.1,899.1L765.3,897.4L758.7,897.4L755.4,899.9L748.8,904.9L746.3,909.8L745.4,914.8L738.8,918.1L733.8,924.8L728.9,934.7L723.9,946.3L720.6,952.9L718.1,962.9L715.6,972.8L710.6,982.8L705.7,991.1L699.0,999.4L692.4,1006.0L687.4,1011.0L684.1,1015.9L684.1,1022.6L685.8,1029.2L687.4,1037.5L690.7,1045.8L695.7,1050.7L700.7,1051.6L707.3,1049.1L712.3,1043.3L717.3,1036.6L721.4,1039.1L725.6,1045.8L730.5,1052.4L734.7,1058.2L737.2,1062.3L738.8,1067.3L743.8,1067.3L747.9,1062.3L751.2,1059.9L756.2,1057.4L757.0,1049.1L755.4,1040.8L756.2,1034.2L760.4,1029.2L761.2,1022.6L762.8,1015.9L758.7,1012.6L753.7,1009.3L750.4,1002.7L748.8,996.0L751.2,989.4L755.4,982.8L758.7,976.1L757.9,967.9L760.4,959.6L767.0,955.4L773.6,956.3L776.9,960.4L773.6,967.9L770.3,974.5L767.8,981.1L767.0,989.4L770.3,996.0L773.6,1002.7L776.9,1007.6L781.9,1008.5L785.2,1011.0L790.2,1007.6L795.2,1002.7L801.8,997.7L808.4,993.6L814.2,994.4L815.1,998.5L810.1,1003.5L803.5,1006.8L798.5,1011.0L793.5,1014.3L791.0,1018.4L795.2,1022.6L800.1,1022.6L801.8,1029.2L800.1,1035.0L793.5,1032.5L788.5,1032.5L785.2,1039.1L786.9,1045.8L790.2,1054.1L785.2,1060.7L778.6,1064.0L772.0,1067.3L765.3,1070.6L758.7,1075.6L752.1,1080.6L743.8,1078.1L737.2,1078.9L730.5,1083.1L724.7,1080.6L719.8,1075.6L718.9,1069.0L722.2,1062.3L721.4,1053.2L715.6,1055.7L710.6,1060.7L709.0,1067.3L710.6,1075.6L714.8,1080.6L714.8,1087.2L709.0,1089.7L702.3,1091.4L695.7,1093.8L689.1,1098.8L685.8,1105.4L680.8,1110.4L674.2,1113.7L667.5,1115.4L660.9,1120.4L652.6,1124.5L644.3,1128.7L642.7,1130.0M727.2,1069.0L732.2,1064.0L738.0,1065.7L738.8,1071.5L733.8,1074.8L728.9,1073.1ZM550.7,952.9L556.5,953.8L560.6,955.4L559.0,961.2L564.8,963.7L571.4,960.4L576.4,963.7L583.0,962.1L589.6,963.7L591.3,967.0L588.0,972.0L590.5,977.0L592.1,979.5L584.7,982.8L576.4,985.3L568.1,987.7L561.4,987.7L555.6,984.4L549.8,979.5L544.9,976.1L550.7,974.5L547.4,970.3L543.2,965.4L549.0,966.2L544.9,961.2L546.5,956.3ZM626.1,1048.8L638.5,1049.1L636.0,1054.9L632.7,1058.2L643.5,1059.0L644.3,1064.0L641.0,1069.0L639.4,1073.1L644.3,1074.8L647.6,1081.4L651.0,1087.2L654.3,1092.2L657.6,1098.8L664.2,1102.1L668.4,1104.6L665.9,1112.1L667.5,1117.1L662.6,1119.5L652.6,1119.5L642.7,1118.7L634.4,1118.7L627.8,1121.2L619.5,1121.2L616.1,1119.5L622.8,1115.4L629.4,1112.1L634.4,1109.6L627.8,1110.4L621.1,1107.9L623.6,1103.0L629.4,1102.1L626.1,1097.2L629.4,1093.0L636.0,1091.4L634.4,1086.4L627.8,1084.7L624.4,1081.4L626.1,1076.4L622.8,1073.9L622.0,1069.0L618.6,1064.0L619.5,1058.2L622.0,1053.2ZM592.9,1086.4L597.9,1081.4L604.5,1078.1L611.2,1077.3L616.1,1080.6L617.8,1086.4L617.0,1093.8L612.8,1100.5L606.2,1103.8L597.9,1105.4L591.3,1103.8L588.0,1101.3L593.8,1097.2L594.6,1092.2ZM642.6,1130.0L645.8,1132.9L639.1,1132.1L629.2,1131.3L623.4,1132.9L624.2,1137.9L630.8,1140.4L637.5,1143.7L644.1,1147.9L648.3,1152.8L648.3,1161.1L645.8,1167.8L639.1,1170.2L629.2,1170.2L619.2,1168.6L611.0,1166.1L602.7,1164.4L592.7,1163.6L584.4,1166.1L581.1,1168.6L583.6,1174.4L584.4,1182.7L581.1,1189.3L576.1,1192.6L577.8,1197.6L581.1,1200.9L580.3,1205.9L587.8,1208.4L596.0,1207.5L602.7,1211.7L607.6,1212.5L617.6,1210.9L625.9,1210.0L635.8,1210.9L644.1,1207.5L650.7,1203.4L655.7,1199.2L657.4,1192.6L662.3,1187.6L670.6,1184.3L677.3,1181.0L681.4,1177.7L681.4,1173.6L687.2,1170.2L695.5,1168.6L703.8,1167.8L712.1,1164.4L720.4,1161.1L727.0,1158.6L733.6,1159.5L739.4,1161.1L743.6,1165.3L751.9,1168.6L760.2,1171.1L768.4,1172.7L776.7,1173.6L785.0,1174.4L790.0,1177.7L793.3,1182.7L791.6,1187.6L795.0,1182.7L798.3,1176.0L801.6,1174.4L795.0,1172.7L790.0,1169.4L798.3,1167.8L809.9,1167.8L809.1,1166.1L798.3,1165.3L788.3,1164.4L783.4,1165.3L776.7,1161.9L771.8,1159.5L768.4,1156.1L761.8,1154.5L758.5,1151.2L754.3,1149.5L755.2,1145.4L760.2,1142.9L765.1,1143.7L768.4,1147.0L776.7,1149.5L785.0,1152.0L793.3,1152.8L803.3,1152.8L811.5,1153.7L816.5,1157.8L818.2,1162.8L826.5,1166.1L833.1,1170.2L841.4,1175.2L849.7,1174.4L853.0,1169.4L855.5,1162.8L854.6,1157.8L849.7,1159.5L844.7,1154.5L849.7,1151.2L854.6,1146.2L862.9,1141.2L869.6,1139.6L874.5,1139.6L877.8,1132.9L880.0,1129.6M764.3,1192.6L771.8,1191.0L780.0,1190.1L789.2,1188.5L790.0,1192.6L788.3,1195.1L778.4,1194.6L768.4,1194.6ZM728.7,1176.0L727.8,1171.1L731.1,1167.8L733.6,1170.2L732.8,1176.0L731.1,1179.4ZM725.3,1182.7L730.3,1180.2L736.1,1181.8L739.4,1186.0L738.6,1191.8L732.0,1192.6L727.8,1191.0L727.0,1186.0ZM483.3,1256.4L489.9,1258.1L496.6,1257.3L499.1,1254.0L498.2,1249.0L492.4,1246.5L501.6,1243.2L513.2,1240.7L524.8,1238.2L536.4,1236.5L546.3,1235.7L556.3,1234.9L566.2,1234.1L567.9,1229.1L572.8,1224.9L579.5,1222.5L587.8,1220.8L596.0,1219.1L601.0,1215.8L606.0,1212.5L612.6,1215.0L620.9,1216.7L629.2,1218.3L637.5,1219.1L645.8,1217.5L655.7,1215.0L665.7,1213.3L675.6,1211.7L687.2,1209.2L698.8,1207.5L712.1,1205.9L723.7,1204.2L735.3,1201.7L745.2,1200.9L750.2,1201.7L751.9,1200.9L752.7,1205.9L751.0,1210.9L746.9,1215.0L751.9,1217.5L760.2,1219.1L770.1,1218.3L781.7,1216.7L795.0,1215.8L806.6,1215.0L818.2,1213.3L828.1,1210.9L834.7,1207.5L836.4,1202.6L841.4,1197.6L849.7,1194.3L859.6,1191.0L869.6,1187.6L880.0,1185.2L883.2,1185.2M860.4,1175.2L867.9,1172.7L876.2,1169.4L880.0,1167.8L880.0,1170.2L869.6,1175.2L861.3,1176.9ZM1006.6,972.0L1012.4,973.7L1016.5,977.8L1014.1,982.8L1010.7,987.7L1009.1,992.7L1012.4,995.2L1007.4,999.4L1015.7,998.5L1022.3,994.4L1029.0,992.7L1034.8,994.4L1037.3,987.7L1046.4,984.8L1045.6,992.7L1040.6,994.4L1043.1,999.4L1048.9,996.9L1053.8,998.5L1057.2,1002.7L1061.3,1003.5L1057.2,1011.0L1052.2,1019.2L1047.2,1024.2L1040.6,1028.4L1035.6,1032.5L1030.6,1035.0L1027.3,1029.2L1028.1,1022.6L1024.8,1017.6L1017.4,1020.9L1007.4,1022.6L999.1,1023.4L994.2,1020.9L987.5,1020.1L986.7,1012.6L989.2,1002.7L991.7,992.7L995.8,982.8L1001.6,976.1ZM930.3,1046.6L932.0,1049.1L929.5,1054.1L931.2,1061.5L937.8,1066.5L946.1,1063.2L956.0,1060.7L964.3,1058.2L971.0,1059.9L971.8,1064.0L967.6,1070.6L962.7,1075.6L956.0,1080.6L947.7,1085.6L939.5,1090.5L931.2,1095.5L922.9,1100.5L916.3,1107.1L909.6,1113.7L903.0,1118.7L894.7,1122.9L888.1,1125.3L879.8,1126.2L874.8,1122.0L874.0,1115.4L875.6,1108.8L879.0,1102.1L880.6,1093.8L882.3,1087.2L888.1,1083.1L896.4,1081.4L900.5,1085.6L903.0,1081.4L906.3,1086.4L911.3,1085.6L914.6,1080.6L917.9,1075.6L922.9,1070.6L917.9,1073.9L912.9,1073.9L910.5,1069.0L914.6,1063.2L919.6,1059.0L924.5,1054.1L927.9,1048.3ZM1054.7,1065.7L1057.2,1060.7L1063.8,1055.7L1072.1,1050.7L1080.4,1047.4L1087.0,1044.1L1093.6,1039.1L1100.3,1032.5L1105.2,1024.2L1108.5,1017.6L1111.0,1012.6L1115.2,1011.0L1121.8,1007.6L1128.4,1001.0L1135.1,994.4L1140.0,991.1L1138.4,999.4L1135.1,1011.0L1130.1,1020.9L1121.8,1029.2L1111.9,1037.5L1105.2,1044.1L1098.6,1049.1L1092.0,1049.9L1087.0,1054.1L1083.7,1059.0L1078.7,1058.2L1072.1,1061.5L1063.8,1065.7L1057.2,1068.1ZM1193.1,880.0L1191.4,886.6L1188.1,896.6L1183.1,904.9L1179.8,908.2L1176.5,913.2L1169.9,921.4L1163.3,928.1L1158.3,938.0L1153.3,949.6L1146.7,962.9L1140.0,972.8L1133.4,982.8L1130.1,989.4M879.9,1129.6L877.1,1133.8L873.8,1139.6L872.9,1144.5L876.3,1147.9L877.1,1152.0L882.9,1152.8L889.5,1154.5L896.1,1151.2L902.8,1149.5L909.4,1146.2L914.4,1141.2L919.4,1137.9L926.0,1135.4L932.6,1132.9L937.6,1128.0L944.2,1121.3L950.0,1117.2L953.3,1114.7L955.0,1118.8L958.3,1123.0L957.5,1131.3L955.8,1139.6L952.5,1146.2L947.5,1151.2L940.9,1155.3L934.3,1159.5L927.6,1163.6L921.0,1167.8L912.7,1172.7L902.8,1176.9L892.8,1181.0L882.9,1185.2M931.0,1137.9L934.3,1132.9L940.9,1128.0L945.9,1126.3L944.2,1131.3L939.2,1137.1L933.4,1141.2ZM797.1,552.7L801.1,553.2L806.1,559.8L810.2,561.5L812.7,567.3L819.4,564.8L822.7,565.6L821.8,573.1L819.4,578.1L814.4,581.4L810.2,584.7L808.6,591.3L810.2,598.0L814.4,605.4L819.4,602.9L822.7,607.9L826.0,612.9L823.5,616.2L826.0,622.8L828.5,629.5L831.8,633.6L828.5,636.1L829.3,647.7L824.3,646.0L819.4,642.7L812.7,640.2L806.1,642.7L801.9,649.4L800.3,656.0L802.8,661.8L806.1,662.6L801.1,667.6L796.1,672.6L797.8,676.7L802.8,679.2L809.4,680.9L812.7,685.8L817.7,690.8L818.5,697.4L822.7,702.4L824.3,709.0L829.3,714.0L832.6,719.0L840.9,719.8L841.7,728.9L841.7,738.9L849.2,741.4L855.8,741.4L862.5,739.7L859.1,743.8L856.6,750.5L857.5,758.8M741.4,558.2L745.6,557.4L749.7,563.2L751.4,568.1L748.1,569.0L743.9,563.2ZM770.5,559.0L772.9,554.0L777.1,559.8L777.9,563.2L772.9,564.0ZM753.9,571.4L758.0,567.3L763.8,569.0L768.0,573.1L772.9,575.6L773.8,580.6L771.3,586.4L765.5,589.7L761.3,588.0L757.2,583.0L754.7,577.2ZM778.7,681.7L782.9,674.2L787.9,672.9L792.0,679.2L795.3,685.8L789.5,684.2L782.9,685.0ZM758.0,698.3L764.6,693.3L772.9,688.3L781.2,685.8L786.2,687.5L787.0,693.3L782.9,699.1L776.3,702.4L768.8,705.7L763.0,702.4ZM857.5,758.7L855.8,763.2L859.1,768.2L865.8,769.8L872.4,769.0L879.0,772.3L885.7,774.8L887.3,771.5L894.0,773.2L900.6,774.0L905.6,779.8L908.9,784.8L911.4,789.7L908.9,793.9L905.6,788.1L901.4,782.3L894.0,779.0L884.0,779.8L875.7,775.6L867.4,773.2L859.1,772.3L852.5,769.8L845.9,769.0L840.9,772.3L840.1,777.3L844.2,781.4L849.2,785.6L854.2,791.4L859.1,794.7L865.8,796.4L872.4,798.8L879.0,796.4L884.0,796.4L887.3,798.8L880.7,803.0L874.1,806.3L867.4,811.3L862.5,816.3L857.5,821.2L856.6,824.5L865.8,825.4L869.1,830.3L864.1,832.0L861.6,837.8L859.1,844.4L855.8,849.4L855.0,854.4L852.5,849.4L850.0,854.4L849.2,862.7L848.4,871.0L846.7,879.2L847.5,884.2L850.7,883.4M797.0,766.5L801.1,764.9L804.4,766.5L806.1,773.2L806.9,781.4L809.4,789.7L812.7,798.0L817.7,806.3L822.7,814.6L827.6,821.2L832.6,825.4L840.9,826.2L841.7,828.7L837.6,834.5L832.6,837.8L827.6,837.0L822.7,840.3L818.5,837.8L816.9,832.8L812.7,827.9L809.4,821.2L806.1,814.6L802.8,808.0L799.5,801.3L797.8,793.0L796.1,784.8L796.1,774.8ZM846.7,758.2L855.8,757.4L865.8,758.6L864.9,761.5L855.8,762.4L847.5,761.5ZM798.1,342.7L804.8,337.7L811.4,336.0L817.2,335.2L818.0,339.4L816.4,351.0L813.9,360.9L813.0,369.2L809.7,375.8L804.8,380.8L798.1,384.1L793.2,387.4L784.9,389.9L776.6,393.2L768.3,397.4L760.0,399.9M760.0,405.7L766.6,406.5L767.5,415.6L773.3,418.9L781.5,419.8L791.5,414.8L799.8,410.6L800.6,405.7L808.1,407.3L816.4,409.8L820.5,413.9L819.7,418.9L823.0,422.2L831.3,423.1L837.9,426.4L844.5,431.4L852.8,437.2L862.8,443.0L872.7,442.1L886.0,441.3L899.2,441.3L910.9,442.1L921.6,443.0L919.1,438.0L915.0,433.8L915.8,427.2L910.0,423.1L905.9,418.9L901.7,413.9L900.9,405.7L901.7,399.9L904.2,399.0L909.2,395.7L915.8,390.7L922.5,385.8L930.7,381.6L940.7,380.0L950.6,379.1L960.6,380.0L970.5,380.8L980.5,382.5L988.8,385.8L995.4,390.7L999.5,397.4L1007.0,400.7L1015.3,404.0L1021.9,406.5L1028.5,404.0L1035.2,409.0L1041.8,413.1L1045.1,409.0L1043.5,399.0L1044.3,390.7L1048.4,385.8L1055.1,385.8L1061.7,390.7L1068.3,397.4L1071.6,402.3L1065.0,407.3L1058.4,409.0L1063.4,413.9L1060.0,420.6L1063.4,425.6L1056.7,427.2L1056.7,433.8L1061.7,440.5L1066.7,447.1L1073.3,452.1L1075.0,455.4L1066.7,453.7L1065.0,458.7L1070.0,463.7L1076.6,470.0M887.6,408.1L891.0,399.0L895.9,385.8L900.1,372.5L901.7,365.0L905.9,369.2L910.0,370.8L915.0,367.5L919.1,362.6L920.0,352.6L923.3,357.6L929.9,357.6L925.8,362.6L920.8,367.5L915.8,374.2L910.9,380.8L907.5,387.4L905.0,395.7L902.6,400.7L895.9,404.0L890.1,404.8ZM916.7,330.2L919.1,326.9L925.8,329.4L932.4,332.7L939.9,331.1L943.2,336.0L947.3,341.0L954.0,341.8L960.6,342.7L962.2,346.0L958.9,351.0L953.1,352.6L947.3,347.6L942.3,351.0L937.4,354.3L932.4,355.9L930.7,349.3L928.3,342.7L924.1,336.9L917.5,334.4ZM953.1,336.0L954.0,329.4L958.9,324.4L967.2,322.8L973.8,319.5L980.5,315.3L987.1,317.0L993.7,321.1L1000.4,326.1L1008.7,330.2L1015.3,333.5L1020.3,337.7L1025.2,343.5L1031.9,346.0L1038.5,351.0L1045.1,357.6L1051.8,360.1L1058.4,360.9L1060.0,365.9L1058.4,372.5L1059.2,378.3L1055.1,375.8L1050.1,370.8L1046.8,370.8L1041.8,365.9L1035.2,362.6L1028.5,357.6L1021.9,352.6L1016.9,348.5L1012.0,344.3L1005.3,343.5L998.7,344.3L995.4,339.4L988.8,336.0L980.5,333.5L972.2,334.4L967.2,337.7L962.2,341.8L957.3,340.2ZM1125.5,418.9L1129.7,416.4L1135.5,420.6L1139.6,427.2L1137.9,431.4L1133.0,429.7L1128.0,424.7ZM760.1,400.0L746.5,404.6L739.0,416.2L743.1,417.0L748.1,411.2L758.1,407.9L760.1,405.8M1076.6,470.0L1080.6,469.6L1085.6,474.6L1088.9,480.4L1093.0,481.2L1093.8,474.6L1090.5,469.6L1092.2,463.8L1087.2,461.3L1083.9,455.5L1081.4,449.7L1078.9,443.9L1080.6,440.6L1085.6,446.4L1090.5,451.4L1095.5,455.5L1100.5,458.0L1103.8,458.8L1103.0,453.0L1103.8,446.4L1105.4,439.8L1107.1,433.2L1110.4,428.2L1113.7,424.9L1118.7,427.4L1123.7,431.5L1130.3,434.8L1136.9,439.0L1143.6,445.6L1150.2,453.0L1156.8,461.3L1161.8,469.6L1166.8,477.9L1171.8,486.2L1176.7,494.5L1180.9,502.8L1185.0,511.1L1187.5,516.0L1186.7,521.0L1190.0,527.6L1193.3,535.9L1196.6,544.2L1199.9,551.7L1201.9,555.0L1203.2,549.2L1203.2,540.9L1201.6,531.0L1199.1,522.7L1198.3,519.4M1224.0,628.8L1222.3,635.4L1224.8,643.7L1227.3,650.0M1224.9,629.9L1223.2,636.6L1226.6,644.9L1229.1,653.2L1227.4,661.4L1223.2,668.1L1220.8,678.0L1217.4,686.3L1215.0,694.6L1215.8,702.9L1217.4,712.8L1217.4,722.8L1218.3,736.0L1219.9,746.0L1221.6,757.6L1222.4,769.2L1223.2,779.1L1222.4,789.1L1221.6,799.0L1220.8,807.3L1224.1,808.1M1209.6,863.2L1204.7,870.1L1196.7,875.1L1192.9,880.0M1140.1,990.6L1138.6,997.8L1136.4,1006.6L1133.5,1015.3L1129.9,1024.0L1125.5,1032.8L1119.7,1042.9L1113.9,1053.1L1106.6,1063.3L1099.3,1073.5L1092.0,1082.2L1083.3,1092.4L1074.6,1101.9L1065.8,1110.6L1057.1,1118.6L1049.8,1125.9L1045.5,1129.5L1038.2,1131.7L1030.9,1134.6L1023.7,1138.2L1016.4,1141.2L1009.1,1142.6L1001.8,1144.8L994.5,1147.0L987.3,1148.4L980.0,1149.2M980.0,1161.5L987.3,1159.3L994.5,1156.4L998.9,1157.9L1004.7,1153.5L1012.0,1150.6L1020.7,1147.0L1028.0,1141.9L1035.3,1137.5L1042.6,1133.1L1048.4,1128.8M102.6,563.0L99.1,577.3L95.9,591.5L93.1,605.8L90.7,620.1L88.7,634.4L87.0,648.6L85.6,662.9L84.7,677.2L84.1,691.5L83.8,705.7L83.9,720.0M944.3,1160.0L951.9,1159.7L959.2,1158.4L961.8,1155.0L961.2,1151.7L963.2,1149.1L964.5,1152.4L965.8,1151.7L969.8,1151.1L976.4,1149.7L980.0,1149.1M943.9,1160.7L949.9,1161.7L959.8,1162.5L966.5,1162.0L976.4,1160.7L980.0,1161.5" fill="none" stroke="#383838" stroke-opacity="0.85" stroke-width="1.75" stroke-linejoin="round" stroke-linecap="round"/>
<circle cx="657.4" cy="708.8" r="8.6" fill="#fff"/>
</g>
<circle cx="657.4" cy="708.8" r="576.1" fill="none" stroke="#2c2638" stroke-width="1.7"/>
<clipPath id="clip1"><circle cx="1948.2" cy="712.3" r="579.8"/></clipPath>
<g clip-path="url(#clip1)">
<circle cx="1948.2" cy="712.3" r="581.8" fill="#3f3d9d"/>
<path d="M1365.2,129.3L2531.2,129.3L2531.2,1295.3L1836.0,1295.3L1838.5,1282.3L1837.2,1282.2L1836.2,1281.3L1832.2,1280.9L1831.2,1280.2L1828.2,1280.0L1827.2,1279.3L1815.2,1276.7L1789.2,1269.4L1767.5,1262.3L1746.0,1254.3L1722.3,1244.3L1701.1,1234.3L1678.2,1222.3L1657.3,1210.3L1623.3,1188.3L1592.1,1165.3L1562.3,1140.3L1535.2,1114.7L1511.2,1089.3L1489.2,1063.1L1469.2,1036.3L1450.2,1007.4L1434.2,979.3L1417.0,944.3L1408.8,925.3L1404.4,913.3L1403.6,912.3L1403.4,910.3L1402.5,909.3L1400.3,902.3L1399.5,901.3L1399.3,899.3L1398.4,898.3L1398.3,896.3L1397.4,895.3L1397.3,893.3L1396.3,892.3L1396.2,890.3L1395.3,889.3L1395.2,887.3L1394.2,886.1L1365.2,895.2Z" fill="#5c4a9f" fill-rule="evenodd"/>
<path d="M2172.1,129.3L2531.2,129.3L2531.2,1295.3L2190.8,1295.3L2171.2,1248.3L2170.2,1248.3L2169.2,1249.2L2167.2,1249.3L2164.2,1251.1L2162.2,1251.2L2161.2,1252.2L2157.2,1253.2L2156.2,1254.1L2154.2,1254.2L2153.2,1255.1L2149.2,1256.1L2148.2,1257.0L2146.2,1257.1L2145.2,1258.0L2143.2,1258.3L2142.2,1259.0L2121.2,1265.7L2093.2,1273.4L2071.2,1278.3L2042.9,1283.3L2018.8,1286.3L1994.2,1288.2L1972.2,1288.9L1947.2,1288.5L1923.2,1287.1L1897.2,1284.3L1871.5,1280.3L1846.7,1275.3L1818.8,1268.3L1795.2,1261.3L1769.1,1252.3L1736.7,1239.3L1704.5,1224.3L1672.7,1207.3L1643.0,1189.3L1613.6,1169.3L1584.8,1147.3L1557.2,1123.7L1531.2,1099.0L1507.2,1073.4L1485.2,1047.1L1465.2,1020.2L1447.2,992.7L1431.2,964.7L1416.2,934.2L1404.2,905.4L1393.2,873.5L1383.2,836.8L1376.2,801.7L1371.2,763.0L1369.1,728.3L1369.1,691.3L1370.1,672.3L1372.0,650.3L1375.1,626.3L1378.1,608.3L1386.2,571.3L1397.2,533.4L1404.2,513.4L1411.2,495.5L1426.2,462.1L1444.2,428.3L1464.2,396.3L1485.2,367.3L1498.2,351.2L1511.2,336.3L1537.2,309.6L1563.2,286.3L1589.9,265.3L1617.5,246.3L1647.2,228.4L1678.2,212.1L1711.1,197.3L1743.2,185.1L1777.2,174.4L1800.2,168.3L1822.2,163.4L1844.2,159.3L1867.2,155.8L1890.2,153.2L1914.2,151.3L1938.2,150.2L1962.2,149.9L1986.2,150.3L2011.2,151.6L2036.2,153.6L2060.2,156.3L2107.2,163.6L2164.2,175.5L2165.3,175.3L2162.2,173.9L2161.2,172.9L2157.2,171.4L2156.3,170.3Z" fill="#765099" fill-rule="evenodd"/>
<path d="M2414.9,130.3L2415.8,129.3L2531.2,129.3L2531.2,1200.7L2393.2,1085.1L2392.2,1085.3L2392.1,1086.3L2371.5,1108.3L2347.0,1132.3L2320.3,1155.3L2295.3,1174.3L2270.1,1191.3L2241.5,1208.3L2212.5,1223.3L2183.3,1236.3L2154.3,1247.3L2122.4,1257.3L2090.2,1265.2L2060.2,1270.8L2029.2,1274.6L1997.2,1276.6L1966.2,1276.7L1934.2,1274.8L1910.2,1272.2L1885.2,1268.3L1860.2,1263.4L1837.2,1257.8L1813.9,1251.3L1789.2,1243.3L1764.6,1234.3L1740.3,1224.3L1716.3,1213.3L1694.5,1202.3L1672.7,1190.3L1651.0,1177.3L1629.6,1163.3L1608.4,1148.3L1587.5,1132.3L1568.2,1116.3L1547.2,1097.5L1527.2,1078.0L1508.2,1057.7L1491.2,1037.9L1475.2,1017.5L1460.2,996.4L1446.2,974.6L1433.2,951.9L1421.2,928.3L1411.2,905.8L1402.2,882.6L1394.2,858.4L1387.2,832.8L1382.2,810.3L1378.2,787.5L1374.7,759.3L1372.9,733.3L1372.3,706.3L1373.2,677.3L1375.2,652.8L1378.2,629.3L1383.2,601.1L1389.2,575.2L1396.2,550.4L1404.2,526.6L1414.2,501.1L1425.2,476.8L1437.2,453.5L1450.2,431.1L1465.2,408.2L1480.2,387.7L1496.2,368.1L1513.2,349.3L1531.2,331.4L1550.2,314.3L1569.2,298.9L1589.2,284.2L1610.2,270.3L1633.2,256.6L1656.2,244.3L1680.2,232.8L1705.2,222.3L1730.2,213.0L1756.2,204.6L1783.2,197.1L1810.2,190.8L1838.2,185.5L1866.2,181.3L1896.2,177.9L1926.2,175.7L1957.2,174.7L1988.2,174.8L2019.2,176.0L2049.2,178.4L2079.2,181.9L2109.2,186.6L2137.2,192.2L2164.2,198.8L2190.2,206.3L2216.2,215.1L2240.2,224.5L2263.2,234.8L2285.2,246.0L2311.2,260.6L2311.7,260.3L2311.5,259.3Z" fill="#8b5693" fill-rule="evenodd"/>
<path d="M1961.0,200.3L1999.2,200.2L2036.2,201.6L2073.2,204.8L2109.2,209.7L2144.2,216.1L2177.2,224.0L2209.2,233.6L2239.2,244.5L2268.2,257.1L2295.2,271.0L2321.2,286.6L2345.2,303.3L2368.2,321.8L2389.2,341.3L2407.2,360.5L2427.2,385.5L2429.2,387.0L2531.2,318.1L2531.2,949.8L2485.2,931.3L2484.0,935.3L2482.0,938.3L2479.7,944.3L2467.2,969.4L2456.2,989.3L2447.2,1004.2L2436.2,1021.1L2423.2,1039.5L2410.2,1056.4L2396.2,1073.2L2382.2,1088.7L2367.2,1104.1L2351.2,1119.3L2336.4,1132.3L2319.2,1146.2L2303.1,1158.3L2285.7,1170.3L2268.3,1181.3L2240.1,1197.3L2209.5,1212.3L2180.8,1224.3L2149.4,1235.3L2117.7,1244.3L2085.6,1251.3L2053.2,1256.2L2022.2,1259.0L1995.2,1259.8L1967.2,1259.2L1939.2,1257.1L1911.2,1253.5L1881.9,1248.3L1853.2,1241.8L1823.2,1233.5L1794.7,1224.3L1765.2,1213.3L1737.2,1201.5L1709.2,1188.3L1682.7,1174.3L1655.4,1158.3L1630.2,1142.0L1605.2,1124.3L1581.2,1105.6L1558.5,1086.3L1537.2,1066.4L1517.2,1046.0L1498.2,1024.7L1481.2,1003.7L1465.2,981.8L1450.2,958.8L1437.2,936.4L1425.2,912.9L1414.2,888.0L1405.2,864.1L1397.2,838.7L1390.8,813.3L1385.7,787.3L1382.2,762.3L1379.9,735.3L1379.1,709.3L1379.7,682.3L1381.8,655.3L1385.2,629.3L1390.2,602.8L1397.2,574.3L1405.2,548.3L1414.2,523.8L1424.2,500.5L1436.2,476.3L1449.2,453.3L1464.2,430.1L1480.2,408.3L1496.2,388.8L1513.2,370.3L1532.2,351.9L1552.2,334.5L1573.0,318.3L1594.2,303.6L1617.2,289.3L1640.6,276.3L1665.2,264.2L1690.4,253.3L1717.2,243.1L1744.2,234.2L1773.2,226.1L1802.2,219.2L1833.2,213.1L1864.2,208.2L1896.2,204.4L1928.2,201.8Z" fill="#a05d8b" fill-rule="evenodd"/>
<path d="M1959.5,227.3L1989.2,226.5L2018.2,226.8L2047.2,228.0L2076.2,230.2L2103.2,233.2L2130.3,237.3L2156.5,242.3L2182.2,248.3L2207.2,255.3L2230.2,262.9L2253.2,271.7L2275.1,281.3L2296.2,291.9L2316.2,303.3L2335.2,315.5L2353.2,328.5L2371.2,343.1L2388.2,358.6L2404.2,374.9L2419.2,392.0L2433.2,409.8L2446.2,428.4L2459.2,449.3L2470.2,469.2L2481.2,491.7L2491.2,515.2L2500.2,539.9L2507.2,562.5L2513.2,585.5L2518.3,609.3L2522.4,634.3L2525.4,660.3L2527.3,692.3L2527.5,715.3L2526.2,745.9L2524.2,767.4L2521.2,789.5L2516.2,816.4L2510.2,841.5L2503.2,865.6L2495.2,889.0L2485.2,914.1L2474.2,938.3L2462.2,961.5L2449.2,984.1L2434.2,1007.4L2419.2,1028.4L2403.2,1048.7L2386.2,1068.2L2368.8,1086.3L2350.2,1103.9L2331.1,1120.3L2310.3,1136.3L2290.2,1150.3L2269.2,1163.5L2246.3,1176.3L2222.2,1188.2L2199.2,1198.3L2175.5,1207.3L2151.0,1215.3L2125.4,1222.3L2101.2,1227.6L2075.2,1232.0L2050.2,1234.9L2023.2,1236.6L1996.2,1236.8L1969.2,1235.5L1941.2,1232.8L1913.2,1228.7L1884.2,1223.0L1854.2,1215.8L1824.2,1207.2L1794.3,1197.3L1765.1,1186.3L1736.2,1174.1L1707.2,1160.3L1680.2,1146.0L1653.3,1130.3L1628.2,1114.2L1603.2,1096.5L1580.2,1078.6L1558.2,1060.0L1537.2,1040.5L1518.2,1021.1L1500.2,1000.9L1483.2,979.8L1467.2,957.7L1453.2,935.9L1440.2,912.9L1429.2,890.6L1419.3,867.3L1411.2,844.9L1404.2,821.3L1398.2,796.2L1393.8,771.3L1390.9,746.3L1389.3,720.3L1389.2,695.3L1390.5,670.3L1393.4,644.3L1397.5,619.3L1403.2,594.0L1410.3,569.3L1419.2,543.7L1429.2,519.8L1440.2,497.1L1452.2,475.6L1466.2,453.6L1481.2,432.9L1497.2,413.3L1514.2,394.7L1533.2,376.3L1552.2,359.9L1572.2,344.4L1593.2,329.9L1615.2,316.4L1638.2,303.8L1662.0,292.3L1686.2,281.9L1712.2,272.2L1739.2,263.4L1768.2,255.2L1798.2,248.0L1830.2,241.6L1862.2,236.4L1894.3,232.3L1927.2,229.2Z" fill="#b4627f" fill-rule="evenodd"/>
<path d="M1973.3,255.3L2002.2,254.6L2030.2,254.8L2058.2,255.8L2085.2,257.8L2112.2,260.7L2137.7,264.3L2163.2,268.9L2187.2,274.3L2210.2,280.4L2233.2,287.6L2254.2,295.3L2275.2,304.1L2295.2,313.7L2314.2,324.1L2332.2,335.1L2349.2,346.9L2366.2,360.0L2382.2,373.9L2397.2,388.4L2412.2,404.7L2426.2,421.8L2439.2,439.6L2451.2,458.1L2462.2,477.1L2472.2,496.7L2481.2,516.8L2490.0,539.3L2497.2,561.1L2503.2,582.4L2508.5,605.3L2512.6,628.3L2515.7,652.3L2517.7,676.3L2518.5,701.3L2518.0,726.3L2516.2,751.3L2513.2,776.1L2509.2,799.4L2504.1,822.3L2497.3,847.3L2490.1,869.3L2481.2,892.8L2471.2,915.8L2460.2,938.0L2447.2,961.3L2434.2,982.2L2420.2,1002.4L2405.2,1022.1L2389.2,1041.0L2373.2,1058.2L2356.2,1074.7L2338.2,1090.6L2319.7,1105.3L2300.2,1119.3L2280.2,1132.2L2259.2,1144.2L2237.6,1155.3L2215.4,1165.3L2192.7,1174.3L2169.2,1182.3L2145.2,1189.2L2121.2,1194.8L2097.2,1199.2L2073.2,1202.4L2047.2,1204.4L2020.2,1205.1L1993.2,1204.3L1966.2,1202.1L1937.2,1198.3L1908.2,1193.2L1876.5,1186.3L1845.7,1178.3L1814.2,1168.9L1783.0,1158.3L1752.2,1146.5L1723.7,1134.3L1696.2,1121.2L1669.2,1106.9L1643.2,1091.7L1618.2,1075.5L1595.5,1059.3L1574.2,1042.7L1553.2,1024.7L1534.2,1006.7L1516.2,988.0L1499.2,968.5L1483.2,947.9L1469.2,927.7L1456.2,906.5L1445.2,886.1L1435.2,864.6L1426.2,841.9L1418.5,818.3L1412.5,795.3L1408.0,772.3L1404.7,748.3L1402.9,724.3L1402.6,699.3L1403.7,674.3L1406.3,650.3L1410.3,626.3L1416.1,601.3L1423.2,577.4L1431.6,554.3L1441.2,532.0L1452.2,510.2L1464.3,489.3L1478.3,468.3L1493.2,448.6L1509.2,429.9L1526.2,412.2L1545.2,394.7L1564.0,379.3L1583.2,365.2L1603.2,352.2L1625.2,339.4L1647.2,328.0L1671.2,317.1L1695.9,307.3L1721.2,298.5L1749.2,290.0L1778.6,282.3L1810.0,275.3L1842.2,269.2L1875.2,264.1L1908.2,260.1L1941.2,257.1Z" fill="#c9686e" fill-rule="evenodd"/>
<path d="M1997.2,285.3L2024.2,284.9L2050.2,285.3L2076.2,286.4L2101.6,288.3L2126.2,290.9L2150.2,294.3L2173.2,298.4L2196.2,303.4L2218.2,309.2L2238.2,315.3L2258.2,322.4L2277.2,330.1L2295.2,338.5L2313.2,348.0L2330.2,358.1L2346.2,368.8L2362.2,380.9L2377.0,393.3L2391.2,406.7L2404.2,420.3L2417.2,435.5L2429.2,451.3L2440.2,467.5L2451.0,485.3L2460.2,502.6L2469.2,521.7L2477.2,541.3L2484.2,561.2L2490.2,581.4L2495.2,601.8L2499.2,622.3L2502.3,643.3L2504.5,665.3L2505.7,688.3L2505.7,711.3L2504.6,733.3L2502.4,756.3L2499.2,778.3L2494.8,800.3L2489.2,822.9L2482.7,844.3L2475.2,865.6L2466.2,887.5L2456.2,908.8L2445.2,929.5L2433.2,949.6L2420.2,969.1L2407.2,986.7L2393.2,1003.8L2378.2,1020.5L2363.2,1035.5L2347.2,1050.0L2330.2,1063.9L2313.2,1076.5L2295.2,1088.4L2276.2,1099.6L2256.2,1110.1L2236.2,1119.3L2215.2,1127.8L2194.0,1135.3L2172.2,1141.8L2150.2,1147.2L2128.2,1151.6L2105.2,1155.0L2079.2,1157.5L2053.2,1158.6L2026.2,1158.3L1999.2,1156.7L1970.2,1153.7L1939.2,1149.1L1905.2,1143.0L1869.2,1135.3L1833.2,1126.6L1800.2,1117.5L1769.2,1107.9L1740.2,1097.7L1712.2,1086.6L1686.2,1075.0L1660.8,1062.3L1636.2,1048.5L1614.2,1034.8L1593.1,1020.3L1572.2,1004.3L1553.2,988.2L1535.2,971.3L1518.2,953.5L1502.2,934.7L1488.2,916.3L1475.5,897.3L1464.2,878.1L1454.1,858.3L1445.0,837.3L1437.4,816.3L1431.2,795.1L1426.2,772.9L1422.6,750.3L1420.5,727.3L1419.9,703.3L1420.9,679.3L1423.3,656.3L1427.2,633.3L1432.9,609.3L1440.0,586.3L1448.2,564.8L1458.2,542.8L1469.2,522.1L1481.4,502.3L1495.2,482.7L1510.2,463.9L1526.2,446.3L1543.7,429.3L1562.2,413.4L1580.2,399.6L1599.7,386.3L1620.2,374.0L1641.2,362.8L1663.5,352.3L1687.2,342.5L1712.2,333.5L1738.2,325.4L1767.2,317.4L1798.2,310.1L1831.2,303.5L1865.2,297.7L1899.2,292.9L1932.2,289.3L1965.2,286.8Z" fill="#de6f5b" fill-rule="evenodd"/>
<path d="M2011.9,319.3L2059.2,319.0L2104.2,320.9L2147.2,325.2L2187.2,331.7L2224.2,340.4L2242.2,345.7L2259.2,351.5L2275.2,357.6L2291.2,364.7L2306.2,372.1L2321.1,380.3L2335.2,389.0L2348.7,398.3L2361.8,408.3L2374.2,418.9L2386.2,430.1L2397.2,441.6L2408.2,454.3L2418.4,467.3L2428.2,481.3L2437.2,495.6L2445.2,509.8L2453.0,525.3L2460.0,541.3L2466.2,557.2L2471.6,573.3L2476.5,590.3L2481.0,609.3L2484.6,628.3L2487.2,647.3L2489.0,667.3L2489.8,686.3L2489.8,706.3L2488.7,726.3L2486.9,745.3L2484.1,764.3L2480.2,784.3L2475.6,803.3L2470.2,821.8L2463.5,841.3L2456.2,859.4L2448.2,877.0L2439.2,894.5L2429.2,911.8L2419.2,927.3L2408.2,942.8L2396.2,958.0L2384.2,971.7L2371.2,985.1L2357.2,998.2L2343.2,1009.9L2328.2,1021.1L2313.2,1031.1L2297.2,1040.7L2281.2,1049.1L2264.2,1056.9L2247.2,1063.7L2229.2,1069.9L2211.2,1075.1L2192.2,1079.7L2172.2,1083.4L2152.2,1086.1L2132.2,1087.9L2112.2,1088.7L2091.2,1088.7L2070.2,1087.8L2047.2,1085.9L2011.2,1081.7L1919.2,1068.7L1831.2,1057.9L1791.2,1051.8L1762.2,1046.2L1735.2,1039.7L1709.2,1032.1L1684.2,1023.3L1662.2,1014.2L1641.2,1004.2L1621.2,993.4L1601.2,981.2L1582.6,968.3L1565.2,954.8L1548.5,940.3L1533.2,925.3L1519.2,909.9L1506.2,893.7L1494.2,876.8L1483.2,858.9L1473.4,840.3L1465.2,822.1L1458.2,803.3L1452.2,783.3L1447.2,760.5L1444.0,738.3L1442.4,715.3L1442.6,692.3L1444.4,669.3L1447.9,646.3L1453.2,623.3L1459.9,601.3L1468.2,579.7L1478.2,558.2L1489.8,537.3L1502.8,517.3L1517.2,498.1L1532.6,480.3L1549.2,463.4L1567.4,447.3L1585.2,433.4L1604.2,420.3L1624.1,408.3L1644.2,397.7L1666.2,387.4L1688.7,378.3L1713.2,369.6L1739.2,361.6L1770.2,353.4L1803.2,345.7L1839.2,338.6L1875.2,332.5L1911.2,327.4L1945.2,323.6L1979.2,320.9Z" fill="#eb7e40" fill-rule="evenodd"/>
<path d="M2066.6,358.3L2100.2,358.7L2132.2,360.4L2163.2,363.4L2192.2,367.7L2219.2,373.2L2245.2,380.1L2269.2,388.1L2292.2,397.6L2314.2,408.7L2334.2,420.8L2353.2,434.4L2371.2,449.7L2388.2,466.7L2403.2,484.5L2417.2,504.2L2429.2,524.2L2441.0,548.3L2450.5,572.3L2458.4,598.3L2464.2,625.0L2468.0,652.3L2469.7,680.3L2469.2,708.3L2466.8,735.3L2462.2,762.5L2455.3,790.3L2446.6,816.3L2436.2,840.9L2424.2,864.0L2410.2,886.5L2394.2,907.8L2377.2,926.7L2367.2,936.4L2356.2,946.0L2345.2,954.6L2334.2,962.3L2323.2,969.2L2311.2,975.9L2299.2,981.7L2286.2,987.1L2273.2,991.7L2260.2,995.6L2247.2,998.7L2233.2,1001.2L2219.2,1003.0L2205.2,1004.1L2177.2,1004.0L2162.2,1002.9L2147.2,1001.0L2131.2,998.3L2115.2,994.8L2081.2,985.4L2019.2,964.9L1994.2,957.4L1966.2,950.9L1941.2,947.4L1916.2,946.5L1890.2,948.0L1866.2,951.2L1803.2,961.7L1784.2,964.0L1767.2,965.3L1748.2,965.9L1730.2,965.3L1712.2,963.7L1694.2,960.9L1674.2,956.4L1654.2,950.3L1635.2,943.0L1616.2,934.0L1598.2,923.9L1580.8,912.3L1564.2,899.4L1549.2,885.8L1531.2,866.3L1515.3,845.3L1502.2,823.7L1491.1,800.3L1486.2,787.5L1482.3,775.3L1476.3,750.3L1473.0,725.3L1472.1,699.3L1473.9,673.3L1478.4,647.3L1485.2,622.0L1494.9,596.3L1507.2,571.3L1521.2,548.5L1537.7,526.3L1556.2,505.7L1573.2,489.6L1592.0,474.3L1611.2,460.9L1632.2,448.2L1654.2,437.0L1678.2,426.5L1703.2,417.3L1732.2,408.1L1769.5,398.3L1813.2,388.5L1861.2,379.3L1909.8,371.3L1951.2,365.8L1991.2,361.8L2029.2,359.3Z" fill="#f2912c" fill-rule="evenodd"/>
<path d="M2112.1,406.3L2140.2,406.3L2167.2,407.6L2193.2,410.1L2217.2,413.8L2240.2,418.8L2262.2,425.2L2282.2,432.5L2301.8,441.3L2320.2,451.4L2338.2,463.3L2354.2,475.9L2369.2,490.0L2383.0,505.3L2395.2,521.3L2406.2,538.6L2416.2,557.4L2425.2,578.6L2432.4,600.3L2437.9,623.3L2441.7,647.3L2443.4,671.3L2443.2,695.3L2441.1,719.3L2437.1,743.3L2431.2,766.3L2423.2,789.1L2413.7,810.3L2402.4,830.3L2390.2,848.0L2376.2,864.6L2361.2,879.2L2344.2,892.5L2326.2,903.5L2308.2,911.9L2288.2,918.6L2268.2,922.7L2247.2,924.6L2226.2,924.2L2205.2,921.5L2183.2,916.6L2164.2,910.6L2145.7,903.3L2126.2,894.3L2105.5,883.3L2067.7,860.3L1990.2,808.7L1973.2,798.4L1958.2,790.1L1943.2,783.0L1929.2,777.6L1916.2,773.9L1903.2,771.6L1889.2,771.0L1876.2,772.3L1863.2,775.3L1850.2,780.2L1838.2,786.3L1825.2,794.2L1771.3,833.3L1757.5,842.3L1745.2,849.3L1729.2,856.8L1714.2,862.2L1699.2,865.9L1684.2,868.0L1674.2,868.5L1664.2,868.3L1645.2,865.9L1626.2,860.8L1608.2,853.4L1590.2,843.0L1574.2,830.7L1560.2,817.0L1547.2,800.7L1537.2,784.6L1529.2,767.7L1523.2,750.3L1518.8,731.3L1516.5,712.3L1516.2,693.3L1518.0,673.3L1521.5,654.3L1527.2,634.9L1534.6,616.3L1544.2,597.5L1555.1,580.3L1568.2,563.3L1582.0,548.3L1597.4,534.3L1614.3,521.3L1627.2,512.8L1640.2,505.3L1654.2,498.2L1670.2,491.2L1686.2,485.1L1703.2,479.5L1742.1,469.3L1847.2,447.8L1940.2,427.8L1987.2,418.9L2020.2,413.8L2051.2,410.1L2082.2,407.6Z" fill="#f7a81f" fill-rule="evenodd"/>
<path d="M2177.7,466.3L2196.2,466.3L2215.2,467.4L2233.2,469.8L2251.2,473.4L2268.2,478.2L2284.2,484.1L2299.8,491.3L2314.2,499.4L2328.2,509.0L2340.8,519.3L2352.2,530.4L2363.2,543.1L2372.8,556.3L2381.2,570.3L2389.1,586.3L2395.2,601.9L2400.4,619.3L2404.1,637.3L2406.3,655.3L2406.9,674.3L2405.9,693.3L2403.5,711.3L2399.3,729.3L2393.8,746.3L2386.9,762.3L2378.2,778.1L2369.0,791.3L2358.2,803.9L2347.0,814.3L2334.2,823.8L2320.2,831.7L2306.2,837.5L2297.2,840.2L2287.2,842.4L2268.2,844.3L2248.2,843.6L2228.2,840.1L2208.2,834.1L2187.2,825.2L2166.2,813.6L2144.9,799.3L2123.7,782.3L2102.4,762.3L2082.1,740.3L2062.7,716.3L2044.3,690.3L2027.7,663.3L2014.8,638.3L2005.5,615.3L2000.8,599.3L1998.5,585.3L1998.1,572.3L1999.7,559.3L2003.5,547.3L2009.3,536.3L2017.5,525.3L2027.6,515.3L2040.7,505.3L2055.7,496.3L2072.5,488.3L2092.2,481.0L2112.2,475.3L2134.2,470.7L2156.2,467.7Z" fill="#f7c31c" fill-rule="evenodd"/>
<path d="M2235.5,556.3L2244.2,556.3L2252.2,557.0L2268.2,560.4L2276.2,563.2L2284.2,566.7L2298.5,575.3L2311.2,586.1L2317.0,592.3L2322.2,599.0L2330.8,613.3L2334.4,621.3L2337.2,629.3L2339.3,637.3L2340.9,646.3L2341.8,655.3L2341.8,664.3L2341.1,673.3L2339.7,681.3L2337.5,689.3L2334.6,697.3L2331.2,704.3L2327.2,710.9L2322.4,717.3L2317.2,722.8L2311.2,727.9L2305.2,731.9L2298.2,735.4L2291.2,738.0L2283.2,739.9L2274.2,740.9L2265.2,740.7L2255.6,739.3L2246.2,736.8L2237.2,733.4L2228.2,729.0L2219.0,723.3L2210.2,716.7L2201.9,709.3L2194.2,701.2L2187.1,692.3L2181.0,683.3L2175.3,673.3L2170.7,663.3L2167.2,653.3L2164.9,644.3L2163.4,635.3L2162.9,626.3L2163.3,617.3L2164.8,608.3L2167.2,600.5L2170.4,593.3L2174.7,586.3L2179.5,580.3L2185.8,574.3L2192.6,569.3L2200.2,565.0L2208.2,561.6L2217.2,558.8L2226.2,557.1Z" fill="#f5dc27" fill-rule="evenodd"/>
<path d="M1948.2,712.3L1948.2,1292.1M1948.2,712.3L2238.1,1214.4M1948.2,712.3L2450.3,1002.2M1948.2,712.3L2528.0,712.3M1948.2,712.3L2450.3,422.4M1948.2,712.3L2238.1,210.2M1948.2,712.3L1948.2,132.5M1948.2,712.3L1658.3,210.2M1948.2,712.3L1446.1,422.4M1948.2,712.3L1368.4,712.3M1948.2,712.3L1446.1,1002.2M1948.2,712.3L1658.3,1214.4" fill="none" stroke="#969696" stroke-opacity="0.55" stroke-width="1.1"/>
<circle cx="1948.2" cy="712.3" r="537.0" fill="none" stroke="#969696" stroke-opacity="0.55" stroke-width="1.1"/>
<circle cx="1948.2" cy="712.3" r="329.8" fill="none" stroke="#969696" stroke-opacity="0.55" stroke-width="1.1"/>
<path d="M1689.4,468.1L1697.7,469.8L1714.4,459.8L1736.0,454.7L1756.0,446.4L1772.7,439.7L1776.1,433.1L1781.9,424.7L1787.7,416.4L1791.1,419.7L1792.7,428.1L1790.2,435.6L1793.5,431.4L1796.1,421.4L1799.4,409.7L1796.1,404.7L1802.7,393.1L1812.7,373.1L1821.1,364.7L1832.7,354.7L1846.1,345.6L1849.4,347.2L1839.4,358.1L1827.7,369.7L1818.6,379.7L1814.4,386.4L1816.1,398.1L1822.7,391.4L1831.1,392.2L1841.1,387.2L1845.2,394.7L1853.6,395.6L1857.7,393.9L1866.1,397.2L1868.6,404.7L1872.7,408.1L1869.4,421.4L1861.1,426.4L1857.7,431.4L1851.9,433.9L1855.2,444.7L1862.7,438.1L1871.1,435.6L1879.4,435.6L1891.1,444.7L1884.4,451.4L1874.4,458.1L1871.9,454.7L1866.1,455.6L1864.4,458.1L1872.7,463.1L1881.1,468.1L1891.9,473.1L1890.2,478.9L1883.6,481.4L1879.4,491.4L1874.4,499.8L1868.6,506.4L1863.6,510.6L1862.7,515.6L1856.9,516.4L1853.6,513.1L1849.4,515.6L1843.6,514.8L1837.7,518.9L1829.4,521.4L1821.1,524.8L1812.7,528.9L1802.7,532.3L1791.1,535.6L1782.7,538.9L1781.0,548.1L1776.9,554.8L1776.1,564.8L1771.0,569.8L1771.9,574.8L1764.4,581.4L1756.0,579.8L1752.7,582.8M1784.4,399.7L1786.9,392.2L1791.9,388.9L1795.2,392.2L1792.7,398.9L1787.7,402.2ZM1866.1,392.2L1870.2,389.7L1876.9,391.4L1874.4,394.7L1867.7,395.6ZM1889.9,418.9L1893.6,416.9L1899.4,418.1L1905.2,417.7L1906.1,421.4L1899.4,422.2L1893.6,421.4ZM2091.6,343.9L2081.1,346.4L2077.8,351.4L2066.1,354.7L2062.8,361.4L2053.6,364.7L2050.3,373.9L2056.1,379.7L2051.1,384.7L2042.8,390.6L2041.1,394.7L2032.8,392.2L2026.1,393.9L2011.9,393.1L2006.9,389.7L2003.6,385.6L1989.4,393.9L1976.1,399.7L1962.7,404.7L1951.9,407.2L1950.2,410.6L1956.1,424.7L1960.2,427.2L1949.4,431.4L1946.9,441.4L1942.7,442.2L1941.9,435.6L1934.4,437.2L1929.4,431.4L1921.9,429.7L1916.1,426.4L1911.1,428.1L1911.9,438.1L1904.4,440.6L1900.2,445.6L1907.7,452.2L1921.9,453.9L1922.7,448.1L1924.4,453.1L1936.1,463.1L1949.4,473.1L1962.7,481.4L1972.7,483.1L1985.2,488.1L1987.7,476.4L1991.9,474.8L1996.1,482.3L2006.1,485.6L2016.1,488.9L2024.4,490.6L2027.7,496.4L2025.2,503.1L2031.1,510.6L2041.1,514.8L2047.8,518.1L2051.1,528.1L2052.8,534.8L2061.1,546.4L2071.1,556.4L2072.8,558.9L2079.4,558.9L2085.3,553.1L2091.6,554.8L2096.1,555.6M1939.4,497.3L1944.4,492.8L1952.7,491.7L1952.4,496.4L1946.9,501.1L1941.9,499.8ZM2032.8,561.4L2036.9,560.1L2041.9,568.9L2039.4,571.4L2035.3,567.3ZM2061.9,562.3L2064.4,557.3L2071.1,563.9L2066.9,566.4L2062.8,564.8ZM1749.7,448.4L1737.5,453.3L1725.9,455.9L1714.2,457.5L1707.5,461.7L1699.2,470.0L1690.9,466.7L1680.9,467.5L1672.5,464.2L1664.2,465.0L1657.5,461.7L1647.5,463.4L1639.2,465.0L1634.2,467.5L1629.2,463.4L1620.9,461.7L1614.2,465.0L1607.5,465.0L1594.2,468.4L1587.5,465.9L1577.5,461.7L1569.2,455.0L1562.5,447.5L1554.2,443.3L1547.5,439.2L1537.5,439.2L1527.5,443.3L1514.2,446.7L1504.2,449.2L1499.2,455.0L1494.2,461.7L1487.5,467.5L1480.8,471.7L1470.8,475.9L1462.5,480.0L1455.8,485.0L1451.7,482.5L1447.5,491.7L1440.8,501.7L1432.5,508.4L1425.8,515.0L1420.0,520.9L1420.0,525.4L1425.8,520.9L1434.2,513.4L1442.5,506.7L1450.8,501.7L1459.2,498.4L1462.5,493.4L1464.2,488.4L1466.7,490.0L1464.2,496.7L1455.8,505.0L1447.5,513.4L1437.5,523.4L1430.8,528.4L1426.7,529.2L1420.8,536.7L1414.2,545.9L1407.5,555.0L1403.3,561.7L1400.8,560.9L1397.5,565.0M1577.5,477.5L1580.9,475.0L1589.2,474.2L1597.5,470.0L1607.5,464.2L1614.2,459.2L1620.9,455.0L1625.9,456.7L1620.9,461.7L1614.2,465.9L1607.5,470.0L1600.9,474.2L1592.5,480.0L1587.5,481.7L1580.9,480.9ZM1649.2,448.0L1657.5,447.0L1666.7,448.4L1667.5,451.7L1662.5,456.7L1657.5,452.5L1652.5,450.0ZM1682.5,732.8L1679.2,729.5L1670.9,726.1L1662.5,722.8L1659.2,717.8L1655.9,711.1L1649.2,707.8L1645.9,702.8L1639.2,696.1L1630.9,689.5L1620.9,685.3L1609.2,684.5L1606.7,692.8L1594.2,697.0L1591.7,702.8L1590.0,714.5L1584.2,727.8L1580.9,736.1L1578.3,747.8L1577.5,756.1L1575.8,762.0L1567.5,762.8L1559.2,766.1L1552.5,771.1L1548.3,777.8L1547.5,782.8L1550.0,788.6L1555.8,790.3L1564.2,787.8L1570.8,782.8L1575.0,779.5L1580.9,787.8L1587.5,793.6L1594.2,796.1L1600.9,795.3L1607.5,790.3L1614.2,784.5L1620.9,781.1L1625.9,784.5L1634.2,781.1L1640.9,777.8L1647.5,776.1M1641.2,747.0L1644.2,744.8L1648.9,751.1L1647.5,755.3L1643.4,752.8ZM1638.9,767.0L1642.2,764.5L1645.9,767.0L1643.4,770.3L1640.0,769.5ZM1696.2,772.8L1700.9,769.5L1707.5,772.0L1705.9,777.0L1700.0,777.8ZM1654.2,727.0L1660.9,729.5L1669.2,730.3L1676.7,732.0L1674.2,739.5L1670.9,747.8L1664.2,751.1L1660.9,762.0L1657.5,762.8L1655.9,756.1L1659.2,749.5L1655.9,742.8L1650.9,737.8L1649.2,734.5L1653.4,731.1ZM1372.5,724.5L1375.0,729.5L1377.5,732.8L1380.8,737.8L1383.3,742.8L1380.8,732.8L1382.5,724.5L1383.3,716.1L1380.8,711.1L1378.3,702.8L1377.2,689.5L1377.2,676.1L1378.3,662.8L1380.8,649.5L1384.2,641.1L1389.2,636.1L1397.5,639.5L1404.2,641.1L1408.3,649.5L1410.5,662.8L1411.7,676.1L1410.8,689.5L1409.2,702.8L1408.3,714.5L1410.8,717.8L1412.5,727.8L1414.2,741.1L1415.0,752.8L1414.2,766.1L1411.7,776.1L1407.5,782.8L1403.3,791.1L1400.5,797.8L1401.7,805.3L1405.8,807.0L1410.0,801.1L1414.2,794.5L1419.2,791.1L1424.2,793.6L1429.2,801.1L1434.2,809.5L1439.2,817.8L1444.2,826.1L1447.5,834.2M1430.2,804.0L1437.7,815.7L1444.4,827.3L1451.1,837.3L1457.7,834.8L1463.6,827.3L1466.0,830.7L1462.7,835.7L1471.1,837.3L1477.7,841.5L1484.4,844.8L1487.7,850.7L1491.9,859.0L1494.4,862.3L1497.7,870.7L1501.9,875.7L1502.7,870.7L1507.7,868.2L1514.4,874.0L1521.1,881.5L1527.7,888.2L1532.7,890.7L1534.4,897.3L1539.4,904.9L1532.7,901.5L1527.7,899.0L1524.4,902.4L1529.4,909.0L1537.7,915.7L1546.1,924.0L1554.4,930.7L1559.4,936.5L1563.6,934.9L1564.4,929.0L1559.4,928.2L1554.4,924.0L1550.2,917.4L1546.9,910.7L1546.1,904.0L1550.2,898.2L1556.1,894.9L1561.1,896.5L1564.4,889.0L1561.1,882.3L1554.4,874.0L1546.1,867.4L1537.7,861.5L1531.9,855.7L1539.4,859.8L1547.7,864.3L1557.7,870.3L1566.1,877.4L1571.1,884.8L1576.1,892.4L1579.4,900.7L1584.4,909.0L1589.4,915.7L1594.4,920.7L1602.7,927.4L1611.1,935.7L1615.2,941.5L1621.1,935.7L1626.1,930.7L1625.2,924.0L1629.4,914.0L1627.7,904.0L1625.2,897.3L1627.7,885.7L1632.7,880.7L1637.7,872.3L1644.4,862.3L1652.7,852.3L1644.4,849.0L1637.7,846.5L1629.4,844.0L1628.6,837.3L1631.9,830.7L1639.4,825.7L1646.1,822.3L1646.9,814.0L1651.1,807.3L1652.7,804.0M1574.4,934.0L1579.4,942.4L1584.4,950.7L1587.7,957.4L1583.6,960.7L1589.4,964.0L1594.4,965.7L1596.1,969.0L1591.1,970.7L1591.9,975.7L1596.1,978.2L1601.1,977.4L1604.4,972.4L1606.1,967.4L1602.7,964.9L1607.7,960.7L1606.1,955.7L1601.1,952.4L1601.9,945.7L1599.4,941.5L1604.4,940.7L1612.7,939.9L1606.1,936.5L1596.1,933.7L1584.4,932.0L1576.1,933.2ZM1571.1,894.9L1573.6,893.2L1576.1,900.7L1575.7,909.0L1573.6,910.7L1571.9,904.0ZM1402.7,829.0L1404.4,825.7L1406.0,830.7M1409.4,819.0L1411.9,825.7L1412.7,834.8M1816.1,751.8L1822.7,753.5L1829.4,758.5L1836.1,762.6L1839.4,756.8L1846.1,755.1L1854.4,756.8L1862.7,758.5L1869.4,763.5L1874.4,769.3L1879.4,771.8L1878.6,781.0L1882.7,773.5L1889.4,771.0L1897.7,771.8L1906.1,776.8L1912.7,783.5L1916.9,791.8L1912.7,794.3L1904.4,793.5L1899.4,791.0L1907.7,796.8L1912.7,800.1L1909.4,805.1L1916.1,803.5L1922.7,804.3L1927.7,808.5L1924.4,813.5L1919.4,816.8L1914.4,820.1L1909.4,821.8L1911.9,826.8L1907.7,833.5L1904.4,840.1L1901.1,848.5L1900.2,855.1L1894.4,855.1L1891.9,861.8L1892.7,868.5L1888.6,871.8L1889.4,878.5L1884.4,880.1L1882.7,886.8L1877.7,888.5L1872.7,891.0L1869.4,896.8L1866.1,900.1L1864.4,905.1L1868.6,908.5L1866.1,915.1L1862.7,918.5L1857.7,913.5L1856.1,906.0L1849.4,914.3L1856.1,918.5L1861.1,921.8L1857.7,925.1L1849.4,926.8L1839.4,928.5L1831.1,928.5L1822.7,926.0L1816.1,923.5L1806.1,926.8L1796.1,929.3L1786.1,928.5L1777.7,925.1L1769.4,925.1L1761.0,928.5L1752.7,935.1L1742.7,938.5L1736.0,943.5L1727.7,948.5L1721.9,951.0L1716.0,943.5L1714.4,935.1L1709.4,926.8L1707.7,918.5L1711.0,908.5L1714.4,898.5L1719.4,888.5L1726.0,880.1L1731.0,871.8L1739.4,865.1L1747.7,861.8L1759.4,861.0L1767.7,858.5L1762.7,853.5L1757.7,850.1L1759.4,845.1L1766.1,841.8L1771.0,843.5L1773.5,850.1L1776.1,841.8L1772.7,835.1L1777.7,830.1L1786.1,825.1L1792.7,816.8L1799.4,806.8L1804.4,798.5L1806.9,790.1L1804.4,781.8L1799.4,775.1L1797.7,770.1L1804.4,761.8L1809.4,765.1L1811.9,770.1L1813.6,760.1L1812.7,753.5ZM1971.1,830.1L1977.7,826.8L1984.4,829.3L1989.4,831.8L1994.4,833.5L1993.6,840.1L1991.1,846.8L1992.7,853.5L1993.6,859.3L1989.4,860.1L1984.4,856.0L1982.7,850.1L1978.6,846.8L1974.4,841.8L1971.9,836.8ZM1983.6,820.1L1987.7,815.1L1994.4,813.1L2001.1,816.0L2001.9,821.0L1997.7,825.1L1991.1,827.6L1986.1,826.0ZM1996.9,839.3L2001.1,836.8L2006.1,841.0L2004.4,846.8L1999.4,847.1ZM2025.2,790.1L2030.2,780.5L2034.4,791.0L2031.1,786.8L2027.7,786.8ZM1775.9,562.7L1771.9,568.0L1772.6,574.7L1765.3,576.0L1758.6,577.3L1759.9,582.7L1754.6,581.3L1751.9,588.0L1745.3,593.3L1738.6,598.7L1731.9,605.3L1726.6,610.0L1723.3,606.7L1720.6,605.3L1715.9,610.7L1713.9,620.0L1710.6,628.0L1705.3,628.7L1707.9,634.7L1713.3,633.3L1716.6,637.3L1715.9,644.0L1710.6,648.0L1706.6,650.7L1703.9,658.7L1699.9,664.0L1698.6,669.4L1701.3,674.7L1705.3,676.0L1707.3,682.7L1699.9,686.0L1693.3,685.1L1699.3,689.4L1703.3,692.7L1709.3,694.0L1714.6,692.0L1719.3,688.0L1722.6,686.7L1729.3,687.4L1735.9,689.4L1739.9,692.7L1741.9,697.4M1722.6,614.0L1731.9,606.7L1745.3,607.3L1742.6,616.0L1739.9,625.3L1745.3,621.3L1749.3,613.3L1753.3,608.0L1757.3,613.3L1762.6,607.3L1767.9,612.0L1771.9,620.0L1774.6,628.0L1767.9,630.0L1766.6,637.3L1761.3,640.0L1762.6,648.0L1747.9,646.7L1755.9,650.7L1763.9,651.4L1765.3,657.4L1766.6,662.7L1761.3,663.4L1757.3,658.7L1749.3,656.7L1738.6,656.0L1731.9,661.4L1725.3,668.0L1719.9,668.0L1718.6,661.4L1713.3,658.7L1713.3,653.4L1718.6,645.4L1721.3,637.3L1720.6,626.7ZM1763.9,593.3L1778.6,589.3L1785.3,596.0L1791.9,604.0L1798.6,608.7L1794.6,617.3L1789.3,624.0L1783.9,628.0L1775.9,629.3L1773.3,621.3L1769.3,612.0L1764.6,602.7ZM1780.6,642.7L1785.3,639.3L1787.9,646.7L1790.6,638.7L1795.3,632.7L1800.6,637.3L1805.3,644.0L1801.3,649.4L1793.3,653.4L1789.9,656.7L1795.9,656.0L1801.3,657.4L1802.6,661.4L1797.3,662.7L1791.9,662.0L1790.6,667.4L1785.3,667.4L1781.3,664.0L1782.6,656.0L1781.9,649.4ZM1807.9,629.3L1811.9,625.1L1815.3,629.3L1818.6,637.3L1821.3,642.7L1818.6,648.0L1813.9,646.0L1809.9,641.3L1807.9,635.3ZM1812.6,660.0L1815.3,656.3L1819.3,659.4L1817.3,664.0L1813.9,663.4ZM1820.6,663.4L1823.9,660.7L1826.9,664.0L1824.6,668.0L1821.3,666.7ZM1735.9,680.0L1741.3,674.7L1747.9,670.0L1753.3,669.4L1752.6,674.0L1759.9,674.0L1763.9,678.7L1761.3,682.7L1761.3,688.7L1754.6,687.4L1747.9,688.7L1741.3,688.0L1737.3,684.7ZM1709.3,682.7L1712.6,676.0L1716.6,672.7L1719.9,676.0L1723.3,680.0L1718.6,685.4L1713.3,688.7L1709.3,686.7ZM1775.9,682.0L1783.9,680.0L1784.6,676.0L1791.9,676.7L1793.3,682.0L1795.3,686.7L1793.3,690.7L1786.6,689.4L1778.6,688.7L1775.9,685.4ZM1809.3,688.0L1813.3,682.7L1817.3,676.7L1822.6,678.0L1827.3,679.4L1823.9,684.0L1818.6,688.0L1813.3,688.7ZM1802.6,702.7L1803.9,698.0L1809.3,694.0L1815.9,691.8L1819.9,692.7L1817.3,697.4L1810.6,698.7L1806.6,701.4L1803.9,703.4ZM1769.9,698.7L1772.6,692.7L1777.3,691.8L1781.3,696.0L1778.6,700.7L1773.3,701.4ZM1741.9,694.0L1749.3,692.0L1757.3,692.7L1762.6,694.7L1765.3,700.0L1763.3,706.7L1761.3,710.7L1755.9,708.0L1749.3,702.7L1743.9,698.7ZM1770.6,702.7L1775.9,703.4L1783.9,701.4L1789.3,698.7L1793.3,694.0L1797.3,693.4L1799.3,696.0L1795.9,701.4L1793.3,706.0L1787.9,708.0L1782.6,712.0L1780.6,718.7L1779.9,726.7L1782.6,733.4L1783.3,738.7L1778.6,742.7L1773.9,742.7L1770.6,737.4L1768.6,729.4L1767.9,718.7L1768.6,709.4ZM1790.6,712.0L1794.6,712.7L1797.3,717.4L1803.9,716.7L1809.3,716.0L1807.9,720.0L1802.6,724.7L1809.3,721.4L1813.3,716.0L1819.9,721.4L1826.6,718.7L1834.0,717.4L1835.3,726.7L1837.3,727.4L1838.0,718.7L1837.3,713.4L1842.6,710.7L1848.0,708.7L1853.3,709.4L1858.6,716.0L1861.3,722.0L1866.6,726.7L1870.6,734.7L1873.3,742.7L1874.0,750.7L1869.3,754.7L1861.3,753.4L1856.0,750.7L1858.6,756.0L1852.0,754.7L1844.0,749.4L1836.0,747.4L1829.3,745.4L1826.6,741.4L1819.9,745.4L1813.3,742.7L1806.6,740.0L1801.3,738.7L1798.6,744.0L1793.3,741.4L1790.6,736.0L1791.9,729.4L1789.9,722.7L1789.3,716.0ZM1811.3,712.0L1812.6,706.7L1815.9,704.0L1822.6,702.7L1826.6,700.0L1833.3,698.7L1840.0,701.4L1845.3,704.0L1846.0,707.4L1841.3,710.7L1836.0,714.7L1829.3,717.4L1822.6,719.4L1817.3,718.7L1813.3,716.0ZM1588.8,718.0L1589.5,708.7L1591.5,698.0L1599.5,694.7L1607.5,692.7L1608.8,686.0L1615.5,685.3L1623.5,687.3L1630.2,691.3L1636.8,696.7L1642.2,702.0L1646.2,707.3L1651.5,708.0L1655.5,712.0L1658.2,716.7L1658.8,720.7L1663.5,723.3L1668.8,726.0L1675.5,728.0L1682.2,730.0L1682.2,736.7L1684.8,743.3L1688.8,748.0L1692.8,750.7L1698.2,748.7L1702.2,746.7L1708.8,748.7L1714.2,747.3L1717.5,742.0L1718.8,736.7L1719.5,730.0L1712.8,730.0L1704.8,729.3L1698.2,727.3L1692.2,725.3L1690.2,723.3L1695.5,721.3L1702.2,720.0L1707.5,716.7L1710.2,714.0L1706.2,711.3L1711.5,710.0L1714.8,704.7L1718.8,704.0L1720.8,705.3L1727.5,702.7L1734.2,699.3L1739.5,695.3L1742.2,692.7M1719.5,730.0L1720.2,723.3L1722.2,718.0L1727.5,714.7L1732.2,716.7L1733.5,713.3L1739.5,712.0L1746.2,712.0L1752.8,714.7L1758.2,719.3L1761.5,724.7L1754.2,724.7L1748.8,726.7L1755.5,729.3L1760.8,735.3L1762.2,740.0L1756.8,742.0L1751.5,744.7L1746.2,746.0L1748.8,751.3L1754.2,756.0L1758.2,757.4L1762.2,752.7L1763.5,746.0L1760.8,742.0L1755.5,746.0L1754.2,756.7L1752.2,759.4L1748.8,764.7L1744.2,770.0L1742.2,771.4L1744.8,776.0L1741.5,780.7L1740.8,787.4L1740.2,794.0L1736.8,799.4L1732.8,802.0L1728.8,804.7L1722.2,800.7L1720.8,807.4L1718.8,814.7L1719.5,819.4L1716.2,824.7L1714.2,830.0L1716.8,836.0L1711.5,838.0L1704.8,838.0L1696.8,835.4L1696.2,830.0L1699.5,824.7L1702.2,819.4L1702.2,815.4L1699.5,812.7L1695.5,814.0L1691.5,819.4L1689.5,827.4L1684.8,834.0L1679.5,838.7L1672.8,840.0L1672.2,830.0L1672.2,822.0L1668.8,828.7L1664.8,838.0L1662.8,836.7L1661.5,827.4L1661.5,816.7L1663.5,806.0L1667.5,800.7L1670.8,794.0L1672.8,787.4L1668.8,782.0L1666.2,775.4L1667.5,770.7L1671.5,769.4L1676.2,771.4L1678.2,776.7L1680.2,782.7L1682.2,787.4L1688.8,786.7L1696.8,788.7L1702.2,789.4L1707.5,786.0L1710.2,782.0L1712.2,776.7L1711.5,770.0L1716.8,767.4L1720.8,763.4L1722.2,756.7L1724.2,756.0L1720.8,750.0L1719.5,740.7ZM1695.5,772.0L1699.5,768.7L1704.8,768.7L1707.5,772.0L1705.5,776.7L1700.2,777.4L1696.8,775.4ZM1640.8,748.7L1643.5,744.9L1647.5,748.7L1649.5,754.0L1646.2,754.7L1642.8,752.0ZM1639.2,766.7L1642.2,764.0L1645.9,766.7L1642.8,769.4ZM1588.8,794.0L1595.5,796.7L1602.2,794.0L1607.5,788.7L1612.8,780.7L1619.5,782.7L1624.8,784.7L1631.5,780.7L1639.5,776.7L1646.2,775.4L1650.2,778.0L1650.8,787.4L1651.5,794.0L1654.2,798.0L1651.5,806.0M2142.6,887.8L2136.7,894.4L2131.7,892.8L2130.1,887.8L2123.4,886.1L2118.4,889.5L2123.4,891.1L2125.1,897.8L2133.4,899.5L2134.2,906.1L2126.7,907.8L2125.1,914.5L2126.7,924.5L2130.9,926.1L2130.1,932.8L2123.4,933.6L2118.4,934.5L2116.7,939.5L2121.7,942.0L2123.4,946.1L2115.1,947.0L2110.1,946.1L2105.1,939.5L2100.1,934.5L2093.4,932.8L2100.1,929.5L2108.4,926.1L2115.1,922.8L2119.2,917.8L2120.9,911.1L2118.4,905.3L2111.7,902.8L2101.7,902.5L2091.7,903.6L2081.7,906.1L2075.1,907.8L2070.1,909.5L2063.4,907.8L2062.6,903.6L2056.7,902.0L2050.1,902.0L2046.7,904.5L2040.1,909.5L2037.6,914.5L2036.7,919.5L2030.1,922.8L2025.1,929.5L2020.1,939.5L2015.1,951.1L2011.7,957.8L2009.2,967.8L2006.7,977.8L2001.7,987.8L1996.7,996.1L1990.1,1004.5L1983.4,1011.1L1978.4,1016.1L1975.1,1021.1L1975.1,1027.8L1976.7,1034.5L1978.4,1042.8L1981.7,1051.1L1986.7,1056.1L1991.7,1057.0L1998.4,1054.5L2003.4,1048.6L2008.4,1042.0L2012.6,1044.5L2016.7,1051.1L2021.7,1057.8L2025.9,1063.6L2028.4,1067.8L2030.1,1072.8L2035.1,1072.8L2039.2,1067.8L2042.6,1065.3L2047.6,1062.8L2048.4,1054.5L2046.7,1046.1L2047.6,1039.5L2051.7,1034.5L2052.6,1027.8L2054.2,1021.1L2050.1,1017.8L2045.1,1014.5L2041.7,1007.8L2040.1,1001.1L2042.6,994.5L2046.7,987.8L2050.1,981.1L2049.2,972.8L2051.7,964.5L2058.4,960.3L2065.1,961.1L2068.4,965.3L2065.1,972.8L2061.7,979.5L2059.2,986.1L2058.4,994.5L2061.7,1001.1L2065.1,1007.8L2068.4,1012.8L2073.4,1013.6L2076.7,1016.1L2081.7,1012.8L2086.7,1007.8L2093.4,1002.8L2100.1,998.6L2105.9,999.5L2106.7,1003.6L2101.7,1008.6L2095.1,1012.0L2090.1,1016.1L2085.1,1019.5L2082.6,1023.6L2086.7,1027.8L2091.7,1027.8L2093.4,1034.5L2091.7,1040.3L2085.1,1037.8L2080.1,1037.8L2076.7,1044.5L2078.4,1051.1L2081.7,1059.5L2076.7,1066.1L2070.1,1069.5L2063.4,1072.8L2056.7,1076.1L2050.1,1081.1L2043.4,1086.1L2035.1,1083.6L2028.4,1084.5L2021.7,1088.6L2015.9,1086.1L2010.9,1081.1L2010.1,1074.5L2013.4,1067.8L2012.6,1058.6L2006.7,1061.1L2001.7,1066.1L2000.1,1072.8L2001.7,1081.1L2005.9,1086.1L2005.9,1092.8L2000.1,1095.3L1993.4,1097.0L1986.7,1099.5L1980.1,1104.5L1976.7,1111.1L1971.7,1116.1L1965.1,1119.5L1958.4,1121.1L1951.7,1126.1L1943.4,1130.3L1935.1,1134.5L1933.4,1135.8M2018.4,1074.5L2023.4,1069.5L2029.2,1071.1L2030.1,1077.0L2025.1,1080.3L2020.1,1078.6ZM1840.9,957.8L1846.7,958.6L1850.9,960.3L1849.2,966.1L1855.0,968.6L1861.7,965.3L1866.7,968.6L1873.4,967.0L1880.0,968.6L1881.7,972.0L1878.4,977.0L1880.9,982.0L1882.5,984.5L1875.0,987.8L1866.7,990.3L1858.4,992.8L1851.7,992.8L1845.9,989.5L1840.0,984.5L1835.0,981.1L1840.9,979.5L1837.5,975.3L1833.4,970.3L1839.2,971.1L1835.0,966.1L1836.7,961.1ZM1916.7,1054.1L1929.2,1054.5L1926.7,1060.3L1923.4,1063.6L1934.2,1064.5L1935.1,1069.5L1931.7,1074.5L1930.1,1078.6L1935.1,1080.3L1938.4,1087.0L1941.7,1092.8L1945.1,1097.8L1948.4,1104.5L1955.1,1107.8L1959.2,1110.3L1956.7,1117.8L1958.4,1122.8L1953.4,1125.3L1943.4,1125.3L1933.4,1124.5L1925.1,1124.5L1918.4,1127.0L1910.0,1127.0L1906.7,1125.3L1913.4,1121.1L1920.1,1117.8L1925.1,1115.3L1918.4,1116.1L1911.7,1113.6L1914.2,1108.6L1920.1,1107.8L1916.7,1102.8L1920.1,1098.6L1926.7,1097.0L1925.1,1092.0L1918.4,1090.3L1915.1,1087.0L1916.7,1082.0L1913.4,1079.5L1912.6,1074.5L1909.2,1069.5L1910.0,1063.6L1912.6,1058.6ZM1883.4,1092.0L1888.4,1087.0L1895.0,1083.6L1901.7,1082.8L1906.7,1086.1L1908.4,1092.0L1907.6,1099.5L1903.4,1106.1L1896.7,1109.5L1888.4,1111.1L1881.7,1109.5L1878.4,1107.0L1884.2,1102.8L1885.0,1097.8ZM1933.3,1135.8L1936.5,1138.8L1929.8,1138.0L1919.8,1137.1L1914.0,1138.8L1914.8,1143.8L1921.5,1146.3L1928.2,1149.6L1934.8,1153.8L1939.0,1158.8L1939.0,1167.1L1936.5,1173.8L1929.8,1176.3L1919.8,1176.3L1909.8,1174.6L1901.5,1172.1L1893.2,1170.5L1883.2,1169.6L1874.8,1172.1L1871.5,1174.6L1874.0,1180.5L1874.8,1188.8L1871.5,1195.5L1866.5,1198.8L1868.2,1203.8L1871.5,1207.1L1870.7,1212.1L1878.2,1214.6L1886.5,1213.8L1893.2,1218.0L1898.2,1218.8L1908.2,1217.1L1916.5,1216.3L1926.5,1217.1L1934.8,1213.8L1941.5,1209.6L1946.5,1205.5L1948.2,1198.8L1953.2,1193.8L1961.5,1190.5L1968.2,1187.1L1972.3,1183.8L1972.3,1179.6L1978.2,1176.3L1986.5,1174.6L1994.8,1173.8L2003.2,1170.5L2011.5,1167.1L2018.2,1164.6L2024.8,1165.5L2030.7,1167.1L2034.9,1171.3L2043.2,1174.6L2051.5,1177.1L2059.9,1178.8L2068.2,1179.6L2076.5,1180.5L2081.5,1183.8L2084.9,1188.8L2083.2,1193.8L2086.5,1188.8L2089.9,1182.1L2093.2,1180.5L2086.5,1178.8L2081.5,1175.5L2089.9,1173.8L2101.5,1173.8L2100.7,1172.1L2089.9,1171.3L2079.9,1170.5L2074.9,1171.3L2068.2,1168.0L2063.2,1165.5L2059.9,1162.1L2053.2,1160.5L2049.9,1157.1L2045.7,1155.5L2046.5,1151.3L2051.5,1148.8L2056.5,1149.6L2059.9,1153.0L2068.2,1155.5L2076.5,1158.0L2084.9,1158.8L2094.9,1158.8L2103.2,1159.6L2108.2,1163.8L2109.9,1168.8L2118.2,1172.1L2124.9,1176.3L2133.2,1181.3L2141.5,1180.5L2144.9,1175.5L2147.4,1168.8L2146.5,1163.8L2141.5,1165.5L2136.5,1160.5L2141.5,1157.1L2146.5,1152.1L2154.9,1147.1L2161.5,1145.5L2166.5,1145.5L2169.9,1138.8L2172.0,1135.5M2055.7,1198.8L2063.2,1197.1L2071.5,1196.3L2080.7,1194.6L2081.5,1198.8L2079.9,1201.3L2069.9,1200.8L2059.9,1200.8ZM2019.8,1182.1L2019.0,1177.1L2022.4,1173.8L2024.8,1176.3L2024.0,1182.1L2022.4,1185.5ZM2016.5,1188.8L2021.5,1186.3L2027.3,1188.0L2030.7,1192.1L2029.8,1198.0L2023.2,1198.8L2019.0,1197.1L2018.2,1192.1ZM1773.1,1263.0L1779.8,1264.6L1786.5,1263.8L1789.0,1260.5L1788.2,1255.5L1782.3,1253.0L1791.5,1249.6L1803.2,1247.1L1814.8,1244.6L1826.5,1243.0L1836.5,1242.1L1846.5,1241.3L1856.5,1240.5L1858.2,1235.5L1863.2,1231.3L1869.8,1228.8L1878.2,1227.1L1886.5,1225.5L1891.5,1222.1L1896.5,1218.8L1903.2,1221.3L1911.5,1223.0L1919.8,1224.6L1928.2,1225.5L1936.5,1223.8L1946.5,1221.3L1956.5,1219.6L1966.5,1218.0L1978.2,1215.5L1989.8,1213.8L2003.2,1212.1L2014.8,1210.5L2026.5,1208.0L2036.5,1207.1L2041.5,1208.0L2043.2,1207.1L2044.0,1212.1L2042.4,1217.1L2038.2,1221.3L2043.2,1223.8L2051.5,1225.5L2061.5,1224.6L2073.2,1223.0L2086.5,1222.1L2098.2,1221.3L2109.9,1219.6L2119.9,1217.1L2126.5,1213.8L2128.2,1208.8L2133.2,1203.8L2141.5,1200.5L2151.5,1197.1L2161.5,1193.8L2172.0,1191.3L2175.2,1191.3M2152.4,1181.3L2159.9,1178.8L2168.2,1175.5L2172.0,1173.8L2172.0,1176.3L2161.5,1181.3L2153.2,1183.0ZM2299.3,977.0L2305.2,978.6L2309.3,982.8L2306.8,987.8L2303.5,992.8L2301.8,997.8L2305.2,1000.3L2300.2,1004.5L2308.5,1003.6L2315.2,999.5L2321.8,997.8L2327.7,999.5L2330.2,992.8L2339.3,989.8L2338.5,997.8L2333.5,999.5L2336.0,1004.5L2341.8,1002.0L2346.8,1003.6L2350.2,1007.8L2354.3,1008.6L2350.2,1016.1L2345.2,1024.5L2340.2,1029.5L2333.5,1033.6L2328.5,1037.8L2323.5,1040.3L2320.2,1034.5L2321.0,1027.8L2317.7,1022.8L2310.2,1026.1L2300.2,1027.8L2291.8,1028.6L2286.8,1026.1L2280.2,1025.3L2279.3,1017.8L2281.8,1007.8L2284.3,997.8L2288.5,987.8L2294.3,981.1ZM2222.7,1052.0L2224.3,1054.5L2221.8,1059.5L2223.5,1067.0L2230.2,1072.0L2238.5,1068.6L2248.5,1066.1L2256.8,1063.6L2263.5,1065.3L2264.3,1069.5L2260.2,1076.1L2255.2,1081.1L2248.5,1086.1L2240.2,1091.1L2231.8,1096.1L2223.5,1101.1L2215.2,1106.1L2208.5,1112.8L2201.8,1119.5L2195.2,1124.5L2186.8,1128.6L2180.2,1131.1L2171.8,1132.0L2166.8,1127.8L2166.0,1121.1L2167.7,1114.5L2171.0,1107.8L2172.7,1099.5L2174.3,1092.8L2180.2,1088.6L2188.5,1087.0L2192.7,1091.1L2195.2,1087.0L2198.5,1092.0L2203.5,1091.1L2206.8,1086.1L2210.2,1081.1L2215.2,1076.1L2210.2,1079.5L2205.2,1079.5L2202.7,1074.5L2206.8,1068.6L2211.8,1064.5L2216.8,1059.5L2220.2,1053.6ZM2347.7,1071.1L2350.2,1066.1L2356.8,1061.1L2365.2,1056.1L2373.5,1052.8L2380.2,1049.5L2386.8,1044.5L2393.5,1037.8L2398.5,1029.5L2401.8,1022.8L2404.4,1017.8L2408.5,1016.1L2415.2,1012.8L2421.9,1006.1L2428.5,999.5L2433.5,996.1L2431.9,1004.5L2428.5,1016.1L2423.5,1026.1L2415.2,1034.5L2405.2,1042.8L2398.5,1049.5L2391.8,1054.5L2385.2,1055.3L2380.2,1059.5L2376.8,1064.5L2371.8,1063.6L2365.2,1067.0L2356.8,1071.1L2350.2,1073.6ZM2486.9,884.4L2485.2,891.1L2481.9,901.1L2476.9,909.5L2473.5,912.8L2470.2,917.8L2463.5,926.1L2456.9,932.8L2451.9,942.8L2446.9,954.5L2440.2,967.8L2433.5,977.8L2426.9,987.8L2423.5,994.5M2171.9,1135.5L2169.1,1139.6L2165.8,1145.5L2164.9,1150.5L2168.3,1153.8L2169.1,1158.0L2174.9,1158.8L2181.6,1160.5L2188.3,1157.1L2194.9,1155.5L2201.6,1152.1L2206.6,1147.1L2211.6,1143.8L2218.3,1141.3L2224.9,1138.8L2229.9,1133.8L2236.6,1127.1L2242.4,1123.0L2245.8,1120.5L2247.4,1124.6L2250.8,1128.8L2249.9,1137.1L2248.3,1145.5L2244.9,1152.1L2239.9,1157.1L2233.3,1161.3L2226.6,1165.5L2219.9,1169.6L2213.3,1173.8L2204.9,1178.8L2194.9,1183.0L2184.9,1187.1L2174.9,1191.3M2223.3,1143.8L2226.6,1138.8L2233.3,1133.8L2238.3,1132.1L2236.6,1137.1L2231.6,1143.0L2225.8,1147.1ZM2088.7,555.3L2092.7,555.8L2097.7,562.5L2101.9,564.2L2104.4,570.0L2111.1,567.5L2114.4,568.3L2113.6,575.8L2111.1,580.8L2106.1,584.2L2101.9,587.5L2100.2,594.2L2101.9,600.9L2106.1,608.4L2111.1,605.8L2114.4,610.9L2117.7,615.9L2115.2,619.2L2117.7,625.9L2120.2,632.5L2123.6,636.7L2120.2,639.2L2121.1,650.9L2116.1,649.2L2111.1,645.9L2104.4,643.4L2097.7,645.9L2093.6,652.5L2091.9,659.2L2094.4,665.0L2097.7,665.9L2092.7,670.9L2087.7,675.9L2089.4,680.0L2094.4,682.5L2101.1,684.2L2104.4,689.2L2109.4,694.2L2110.2,700.9L2114.4,705.9L2116.1,712.5L2121.1,717.5L2124.4,722.5L2132.7,723.4L2133.6,732.5L2133.6,742.5L2141.1,745.0L2147.7,745.0L2154.4,743.4L2151.1,747.5L2148.6,754.2L2149.4,762.5M2032.7,560.8L2036.9,560.0L2041.0,565.8L2042.7,570.8L2039.4,571.7L2035.2,565.8ZM2061.9,561.7L2064.4,556.7L2068.5,562.5L2069.4,565.8L2064.4,566.7ZM2045.2,574.2L2049.4,570.0L2055.2,571.7L2059.4,575.8L2064.4,578.3L2065.2,583.3L2062.7,589.2L2056.9,592.5L2052.7,590.8L2048.5,585.8L2046.0,580.0ZM2070.2,685.0L2074.4,677.5L2079.4,676.2L2083.5,682.5L2086.9,689.2L2081.0,687.5L2074.4,688.4ZM2049.4,701.7L2056.0,696.7L2064.4,691.7L2072.7,689.2L2077.7,690.9L2078.6,696.7L2074.4,702.5L2067.7,705.9L2060.2,709.2L2054.4,705.9ZM2149.4,762.5L2147.7,767.0L2151.1,772.0L2157.7,773.7L2164.4,772.8L2171.1,776.2L2177.7,778.7L2179.4,775.3L2186.1,777.0L2192.7,777.8L2197.7,783.7L2201.1,788.7L2203.6,793.7L2201.1,797.8L2197.7,792.0L2193.6,786.2L2186.1,782.8L2176.1,783.7L2167.7,779.5L2159.4,777.0L2151.1,776.2L2144.4,773.7L2137.7,772.8L2132.7,776.2L2131.9,781.2L2136.1,785.3L2141.1,789.5L2146.1,795.3L2151.1,798.7L2157.7,800.3L2164.4,802.8L2171.1,800.3L2176.1,800.3L2179.4,802.8L2172.7,807.0L2166.1,810.3L2159.4,815.3L2154.4,820.4L2149.4,825.3L2148.6,828.7L2157.7,829.5L2161.1,834.5L2156.1,836.2L2153.6,842.0L2151.1,848.7L2147.7,853.7L2146.9,858.7L2144.4,853.7L2141.9,858.7L2141.1,867.0L2140.2,875.4L2138.6,883.7L2139.4,888.7L2142.6,887.9M2088.6,770.3L2092.7,768.7L2096.0,770.3L2097.7,777.0L2098.5,785.3L2101.1,793.7L2104.4,802.0L2109.4,810.3L2114.4,818.7L2119.4,825.3L2124.4,829.5L2132.7,830.4L2133.6,832.9L2129.4,838.7L2124.4,842.0L2119.4,841.2L2114.4,844.5L2110.2,842.0L2108.5,837.0L2104.4,832.0L2101.1,825.3L2097.7,818.7L2094.4,812.0L2091.1,805.3L2089.4,797.0L2087.7,788.7L2087.7,778.7ZM2138.6,762.0L2147.7,761.2L2157.7,762.3L2156.9,765.3L2147.7,766.2L2139.4,765.3ZM2089.7,344.1L2096.4,339.1L2103.0,337.5L2108.9,336.6L2109.7,340.8L2108.0,352.5L2105.5,362.5L2104.7,370.8L2101.4,377.5L2096.4,382.5L2089.7,385.8L2084.7,389.1L2076.4,391.6L2068.0,395.0L2059.7,399.1L2051.4,401.6M2051.4,407.5L2058.0,408.3L2058.9,417.5L2064.7,420.8L2073.0,421.6L2083.0,416.6L2091.4,412.5L2092.2,407.5L2099.7,409.1L2108.0,411.6L2112.2,415.8L2111.4,420.8L2114.7,424.1L2123.0,425.0L2129.7,428.3L2136.4,433.3L2144.7,439.2L2154.7,445.0L2164.7,444.1L2178.1,443.3L2191.4,443.3L2203.1,444.1L2213.9,445.0L2211.4,440.0L2207.2,435.8L2208.1,429.1L2202.2,425.0L2198.1,420.8L2193.9,415.8L2193.1,407.5L2193.9,401.6L2196.4,400.8L2201.4,397.5L2208.1,392.5L2214.7,387.5L2223.1,383.3L2233.1,381.6L2243.1,380.8L2253.1,381.6L2263.1,382.5L2273.1,384.1L2281.4,387.5L2288.1,392.5L2292.2,399.1L2299.7,402.5L2308.1,405.8L2314.7,408.3L2321.4,405.8L2328.1,410.8L2334.7,415.0L2338.1,410.8L2336.4,400.8L2337.2,392.5L2341.4,387.5L2348.1,387.5L2354.7,392.5L2361.4,399.1L2364.7,404.1L2358.1,409.1L2351.4,410.8L2356.4,415.8L2353.1,422.5L2356.4,427.5L2349.7,429.1L2349.7,435.8L2354.7,442.5L2359.7,449.2L2366.4,454.1L2368.1,457.5L2359.7,455.8L2358.1,460.8L2363.1,465.8L2369.7,472.2M2179.7,410.0L2183.1,400.8L2188.1,387.5L2192.2,374.1L2193.9,366.6L2198.1,370.8L2202.2,372.5L2207.2,369.1L2211.4,364.1L2212.2,354.1L2215.6,359.1L2222.2,359.1L2218.1,364.1L2213.1,369.1L2208.1,375.8L2203.1,382.5L2199.7,389.1L2197.2,397.5L2194.7,402.5L2188.1,405.8L2182.2,406.6ZM2208.9,331.6L2211.4,328.3L2218.1,330.8L2224.7,334.1L2232.2,332.5L2235.6,337.5L2239.7,342.5L2246.4,343.3L2253.1,344.1L2254.7,347.5L2251.4,352.5L2245.6,354.1L2239.7,349.1L2234.7,352.5L2229.7,355.8L2224.7,357.5L2223.1,350.8L2220.6,344.1L2216.4,338.3L2209.7,335.8ZM2245.6,337.5L2246.4,330.8L2251.4,325.8L2259.7,324.1L2266.4,320.8L2273.1,316.6L2279.7,318.3L2286.4,322.5L2293.1,327.5L2301.4,331.6L2308.1,335.0L2313.1,339.1L2318.1,345.0L2324.7,347.5L2331.4,352.5L2338.1,359.1L2344.7,361.6L2351.4,362.5L2353.1,367.5L2351.4,374.1L2352.2,380.0L2348.1,377.5L2343.1,372.5L2339.7,372.5L2334.7,367.5L2328.1,364.1L2321.4,359.1L2314.7,354.1L2309.7,350.0L2304.7,345.8L2298.1,345.0L2291.4,345.8L2288.1,340.8L2281.4,337.5L2273.1,335.0L2264.7,335.8L2259.7,339.1L2254.7,343.3L2249.7,341.6ZM2418.9,420.8L2423.1,418.3L2428.9,422.5L2433.1,429.1L2431.4,433.3L2426.4,431.6L2421.4,426.6ZM2051.4,401.7L2037.8,406.4L2030.2,418.1L2034.4,418.9L2039.4,413.1L2049.4,409.7L2051.4,407.6M2369.7,472.1L2373.7,471.8L2378.7,476.8L2382.1,482.6L2386.2,483.5L2387.1,476.8L2383.7,471.8L2385.4,466.0L2380.4,463.5L2377.1,457.6L2374.6,451.8L2372.1,446.0L2373.7,442.6L2378.7,448.5L2383.7,453.5L2388.7,457.6L2393.7,460.1L2397.1,461.0L2396.2,455.1L2397.1,448.5L2398.7,441.8L2400.4,435.1L2403.7,430.1L2407.1,426.8L2412.1,429.3L2417.1,433.5L2423.7,436.8L2430.4,441.0L2437.1,447.6L2443.7,455.1L2450.4,463.5L2455.4,471.8L2460.4,480.1L2465.4,488.5L2470.4,496.8L2474.6,505.1L2478.7,513.5L2481.2,518.5L2480.4,523.5L2483.7,530.1L2487.1,538.5L2490.4,546.8L2493.7,554.3L2495.7,557.6L2497.1,551.8L2497.1,543.5L2495.4,533.5L2492.9,525.1L2492.1,521.8M2517.9,631.8L2516.2,638.5L2518.7,646.8L2521.3,653.2M2518.9,633.0L2517.2,639.7L2520.5,648.0L2523.0,656.3L2521.4,664.7L2517.2,671.3L2514.7,681.4L2511.4,689.7L2508.9,698.0L2509.7,706.4L2511.4,716.4L2511.4,726.4L2512.2,739.7L2513.9,749.7L2515.5,761.4L2516.4,773.0L2517.2,783.0L2516.4,793.0L2515.5,803.0L2514.7,811.4L2518.0,812.2M2503.5,867.5L2498.5,874.5L2490.5,879.5L2486.7,884.5M2433.5,995.6L2432.1,1002.9L2429.9,1011.7L2426.9,1020.5L2423.3,1029.3L2418.9,1038.0L2413.0,1048.3L2407.2,1058.5L2399.9,1068.8L2392.6,1079.0L2385.2,1087.8L2376.5,1098.0L2367.7,1107.5L2358.9,1116.3L2350.1,1124.4L2342.8,1131.7L2338.4,1135.3L2331.1,1137.5L2323.8,1140.5L2316.5,1144.1L2309.2,1147.1L2301.9,1148.5L2294.5,1150.7L2287.2,1152.9L2279.9,1154.4L2272.6,1155.1M2272.6,1167.5L2279.9,1165.3L2287.2,1162.4L2291.6,1163.9L2297.5,1159.5L2304.8,1156.6L2313.6,1152.9L2320.9,1147.8L2328.2,1143.4L2335.5,1139.0L2341.4,1134.6M1390.3,565.7L1386.8,580.1L1383.6,594.4L1380.8,608.7L1378.4,623.1L1376.3,637.5L1374.6,651.8L1373.2,666.1L1372.3,680.5L1371.7,694.9L1371.4,709.2L1371.5,723.6M2236.7,1166.0L2244.3,1165.7L2251.6,1164.3L2254.3,1161.0L2253.7,1157.7L2255.7,1155.0L2257.0,1158.3L2258.3,1157.7L2262.3,1157.0L2269.0,1155.7L2272.6,1155.0M2236.3,1166.7L2242.3,1167.7L2252.3,1168.5L2259.0,1168.0L2269.0,1166.7L2272.6,1167.5" fill="none" stroke="#383838" stroke-opacity="0.85" stroke-width="1.75" stroke-linejoin="round" stroke-linecap="round"/>
<circle cx="1948.2" cy="712.3" r="8.6" fill="#fff"/>
</g>
<circle cx="1948.2" cy="712.3" r="579.3" fill="none" stroke="#2c2638" stroke-width="1.7"/>
<path d="M486.2,1317.3L402.2,1367.9499999999998L486.2,1418.6Z" fill="#082430"/>
<path d="M2120.4,1317.3L2203.2,1367.9499999999998L2120.4,1418.6Z" fill="#e4e65c"/>
<rect x="485.2" y="1317.3" width="91.5" height="101.3" fill="#082430"/>
<rect x="576.1" y="1317.3" width="91.5" height="101.3" fill="#132d50"/>
<rect x="667.0" y="1317.3" width="91.5" height="101.3" fill="#273674"/>
<rect x="757.9" y="1317.3" width="91.5" height="101.3" fill="#383899"/>
<rect x="848.8" y="1317.3" width="91.5" height="101.3" fill="#523e9a"/>
<rect x="939.7" y="1317.3" width="91.5" height="101.3" fill="#67469a"/>
<rect x="1030.6" y="1317.3" width="91.5" height="101.3" fill="#7c4f96"/>
<rect x="1121.5" y="1317.3" width="91.5" height="101.3" fill="#8f558d"/>
<rect x="1212.4" y="1317.3" width="91.5" height="101.3" fill="#a35b86"/>
<rect x="1303.3" y="1317.3" width="91.5" height="101.3" fill="#bc627c"/>
<rect x="1394.2" y="1317.3" width="91.5" height="101.3" fill="#d26b70"/>
<rect x="1485.1" y="1317.3" width="91.5" height="101.3" fill="#e6775f"/>
<rect x="1576.0" y="1317.3" width="91.5" height="101.3" fill="#f4874b"/>
<rect x="1666.9" y="1317.3" width="91.5" height="101.3" fill="#f89940"/>
<rect x="1757.8" y="1317.3" width="91.5" height="101.3" fill="#fcae3c"/>
<rect x="1848.7" y="1317.3" width="91.5" height="101.3" fill="#fac742"/>
<rect x="1939.6" y="1317.3" width="91.5" height="101.3" fill="#f0e04f"/>
<rect x="2030.5" y="1317.3" width="91.5" height="101.3" fill="#e4e65c"/>
<path d="M485.2,1317.3L2121.4,1317.3L2203.2,1367.9499999999998L2121.4,1418.6L485.2,1418.6L402.2,1367.9499999999998Z" fill="none" stroke="#000" stroke-width="2.6" stroke-linejoin="miter"/>
<line x1="520.6" y1="1418.6" x2="520.6" y2="1432.1" stroke="#000" stroke-width="2.6"/>
<text x="0" y="0" transform="translate(426.49,1490.39) scale(0.6717,0.6127)" font-size="100" class="sans" stroke="#000" stroke-width="0.7">20000</text>
<line x1="868.4" y1="1418.6" x2="868.4" y2="1432.1" stroke="#000" stroke-width="2.6"/>
<text x="0" y="0" transform="translate(774.97,1490.39) scale(0.6693,0.6127)" font-size="100" class="sans" stroke="#000" stroke-width="0.7">30000</text>
<line x1="1216.2" y1="1418.6" x2="1216.2" y2="1432.1" stroke="#000" stroke-width="2.6"/>
<text x="0" y="0" transform="translate(1123.79,1490.39) scale(0.6656,0.6127)" font-size="100" class="sans" stroke="#000" stroke-width="0.7">40000</text>
<line x1="1564.0" y1="1418.6" x2="1564.0" y2="1432.1" stroke="#000" stroke-width="2.6"/>
<text x="0" y="0" transform="translate(1470.57,1490.39) scale(0.6693,0.6127)" font-size="100" class="sans" stroke="#000" stroke-width="0.7">50000</text>
<line x1="1911.8" y1="1418.6" x2="1911.8" y2="1432.1" stroke="#000" stroke-width="2.6"/>
<text x="0" y="0" transform="translate(1817.69,1490.39) scale(0.6717,0.6127)" font-size="100" class="sans" stroke="#000" stroke-width="0.7">60000</text>
<text x="0" y="0" transform="translate(1191.13,1577.30) scale(0.6837,0.8217)" font-size="100" class="sans" stroke="#000" stroke-width="0.6">F</text>
<text x="0" y="0" transform="translate(1260.76,1572.40) scale(0.6906,0.7476)" font-size="100" class="sans" stroke="#000" stroke-width="0.6">(</text>
<text x="0" y="0" transform="translate(1290.94,1577.30) scale(0.8400,0.8130)" font-size="100" class="sans" stroke="#000" stroke-width="0.6">n</text>
<text x="0" y="0" transform="translate(1336.54,1577.30) scale(0.8655,0.8217)" font-size="100" class="sans" stroke="#000" stroke-width="0.6">T</text>
<text x="0" y="0" transform="translate(1392.70,1572.40) scale(0.7000,0.7476)" font-size="100" class="sans" stroke="#000" stroke-width="0.6">)</text>
<text x="0" y="0" transform="translate(529.02,98.24) scale(0.9294,0.9615)" font-size="100" class="serif">2014</text>
<text x="0" y="0" transform="translate(718.36,97.24) scale(0.8833,0.9043)" font-size="100" class="serif">.</text>
<text x="0" y="0" transform="translate(742.91,99.22) scale(0.9476,0.9763)" font-size="100" class="serif">0</text>
<text x="0" y="0" transform="translate(1813.69,98.44) scale(0.9347,0.9615)" font-size="100" class="serif">2025</text>
<text x="0" y="0" transform="translate(2003.06,97.44) scale(0.8833,0.9043)" font-size="100" class="serif">.</text>
<text x="0" y="0" transform="translate(2026.84,99.62) scale(0.9643,0.9793)" font-size="100" class="serif">0</text>
<text x="0" y="0" transform="translate(43.88,98.58) scale(1.0911,0.9200)" font-size="100" class="serif">a</text>
<text x="0" y="0" transform="translate(1388.00,98.54) scale(0.9000,0.9571)" font-size="100" class="serif">b</text>
<path d="M37.5,26.6A63.6,63.6 0 0 0 37.5,122.1L39.5,121.6A81.9,81.9 0 0 1 39.5,27.1ZM96.8,26.6A64.0,64.0 0 0 1 96.8,122.1L94.8,121.6A82.8,82.8 0 0 0 94.8,27.1ZM1373.1,26.6A63.6,63.6 0 0 0 1373.1,122.1L1375.1,121.6A81.9,81.9 0 0 1 1375.1,27.1ZM1438.0,26.6A64.0,64.0 0 0 1 1438.0,122.1L1436.0,121.6A82.8,82.8 0 0 0 1436.0,27.1Z" fill="#000"/>
</svg>
</body></html>
